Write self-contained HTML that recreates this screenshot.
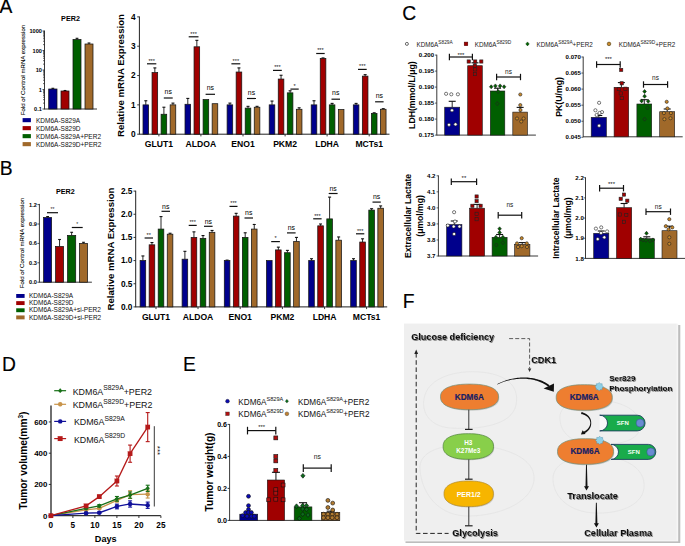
<!DOCTYPE html>
<html><head><meta charset="utf-8"><title>Figure</title>
<style>
html,body{margin:0;padding:0;background:#fff;}
body{width:685px;height:546px;overflow:hidden;}
svg{display:block;font-family:"Liberation Sans", sans-serif;}
</style></head><body>
<svg width="685" height="546" viewBox="0 0 685 546">
<defs><filter id="tsh" x="-10%" y="-30%" width="130%" height="180%"><feDropShadow dx="0.9" dy="0.9" stdDeviation="0.55" flood-color="#000" flood-opacity="0.5"/></filter></defs>
<rect width="685" height="546" fill="#fff"/>
<text x="-0.50" y="13.30" font-size="19.3" text-anchor="start" fill="#000" stroke="#000" stroke-width="0.15">A</text>
<text x="-0.20" y="175.00" font-size="19.3" text-anchor="start" fill="#000" stroke="#000" stroke-width="0.15">B</text>
<text x="402.30" y="20.20" font-size="19.3" text-anchor="start" fill="#000" stroke="#000" stroke-width="0.15">C</text>
<text x="2.00" y="371.20" font-size="19.3" text-anchor="start" fill="#000" stroke="#000" stroke-width="0.15">D</text>
<text x="183.00" y="370.80" font-size="19.3" text-anchor="start" fill="#000" stroke="#000" stroke-width="0.15">E</text>
<text x="402.70" y="307.70" font-size="19.3" text-anchor="start" fill="#000" stroke="#000" stroke-width="0.15">F</text>
<line x1="139.40" y1="16.48" x2="139.40" y2="134.60" stroke="#222" stroke-width="1.0"/>
<line x1="139.40" y1="134.20" x2="389.50" y2="134.20" stroke="#222" stroke-width="1.0"/>
<line x1="137.20" y1="134.20" x2="139.40" y2="134.20" stroke="#222" stroke-width="0.9"/>
<text x="135.60" y="137.10" font-size="8.3" font-weight="bold" text-anchor="end" fill="#000">0</text>
<line x1="137.20" y1="104.87" x2="139.40" y2="104.87" stroke="#222" stroke-width="0.9"/>
<text x="135.60" y="107.77" font-size="8.3" font-weight="bold" text-anchor="end" fill="#000">1</text>
<line x1="137.20" y1="75.54" x2="139.40" y2="75.54" stroke="#222" stroke-width="0.9"/>
<text x="135.60" y="78.44" font-size="8.3" font-weight="bold" text-anchor="end" fill="#000">2</text>
<line x1="137.20" y1="46.21" x2="139.40" y2="46.21" stroke="#222" stroke-width="0.9"/>
<text x="135.60" y="49.11" font-size="8.3" font-weight="bold" text-anchor="end" fill="#000">3</text>
<line x1="137.20" y1="16.88" x2="139.40" y2="16.88" stroke="#222" stroke-width="0.9"/>
<text x="135.60" y="19.78" font-size="8.3" font-weight="bold" text-anchor="end" fill="#000">4</text>
<line x1="158.90" y1="134.20" x2="158.90" y2="136.40" stroke="#222" stroke-width="0.9"/>
<text x="158.90" y="146.70" font-size="8.6" font-weight="bold" text-anchor="middle" fill="#000">GLUT1</text>
<line x1="145.80" y1="104.87" x2="145.80" y2="100.76" stroke="#111" stroke-width="0.9"/>
<line x1="144.30" y1="100.76" x2="147.30" y2="100.76" stroke="#111" stroke-width="1.1"/>
<rect x="143.00" y="104.87" width="5.60" height="29.33" fill="#00008c" stroke="#151515" stroke-width="0.75"/>
<line x1="154.85" y1="72.61" x2="154.85" y2="67.91" stroke="#111" stroke-width="0.9"/>
<line x1="153.35" y1="67.91" x2="156.35" y2="67.91" stroke="#111" stroke-width="1.1"/>
<rect x="152.05" y="72.61" width="5.60" height="61.59" fill="#a00000" stroke="#151515" stroke-width="0.75"/>
<line x1="163.90" y1="114.26" x2="163.90" y2="107.22" stroke="#111" stroke-width="0.9"/>
<line x1="162.40" y1="107.22" x2="165.40" y2="107.22" stroke="#111" stroke-width="1.1"/>
<rect x="161.10" y="114.26" width="5.60" height="19.94" fill="#005f00" stroke="#151515" stroke-width="0.75"/>
<line x1="172.95" y1="104.87" x2="172.95" y2="103.11" stroke="#111" stroke-width="0.9"/>
<line x1="171.45" y1="103.11" x2="174.45" y2="103.11" stroke="#111" stroke-width="1.1"/>
<rect x="170.15" y="104.87" width="5.60" height="29.33" fill="#a0692a" stroke="#151515" stroke-width="0.75"/>
<line x1="200.90" y1="134.20" x2="200.90" y2="136.40" stroke="#222" stroke-width="0.9"/>
<text x="200.90" y="146.70" font-size="8.6" font-weight="bold" text-anchor="middle" fill="#000">ALDOA</text>
<line x1="187.80" y1="104.28" x2="187.80" y2="98.42" stroke="#111" stroke-width="0.9"/>
<line x1="186.30" y1="98.42" x2="189.30" y2="98.42" stroke="#111" stroke-width="1.1"/>
<rect x="185.00" y="104.28" width="5.60" height="29.92" fill="#00008c" stroke="#151515" stroke-width="0.75"/>
<line x1="196.85" y1="46.80" x2="196.85" y2="40.34" stroke="#111" stroke-width="0.9"/>
<line x1="195.35" y1="40.34" x2="198.35" y2="40.34" stroke="#111" stroke-width="1.1"/>
<rect x="194.05" y="46.80" width="5.60" height="87.40" fill="#a00000" stroke="#151515" stroke-width="0.75"/>
<rect x="203.10" y="99.59" width="5.60" height="34.61" fill="#005f00" stroke="#151515" stroke-width="0.75"/>
<rect x="212.15" y="103.70" width="5.60" height="30.50" fill="#a0692a" stroke="#151515" stroke-width="0.75"/>
<line x1="243.00" y1="134.20" x2="243.00" y2="136.40" stroke="#222" stroke-width="0.9"/>
<text x="243.00" y="146.70" font-size="8.6" font-weight="bold" text-anchor="middle" fill="#000">ENO1</text>
<line x1="229.90" y1="104.87" x2="229.90" y2="103.11" stroke="#111" stroke-width="0.9"/>
<line x1="228.40" y1="103.11" x2="231.40" y2="103.11" stroke="#111" stroke-width="1.1"/>
<rect x="227.10" y="104.87" width="5.60" height="29.33" fill="#00008c" stroke="#151515" stroke-width="0.75"/>
<line x1="238.95" y1="72.02" x2="238.95" y2="67.91" stroke="#111" stroke-width="0.9"/>
<line x1="237.45" y1="67.91" x2="240.45" y2="67.91" stroke="#111" stroke-width="1.1"/>
<rect x="236.15" y="72.02" width="5.60" height="62.18" fill="#a00000" stroke="#151515" stroke-width="0.75"/>
<line x1="248.00" y1="108.10" x2="248.00" y2="106.34" stroke="#111" stroke-width="0.9"/>
<line x1="246.50" y1="106.34" x2="249.50" y2="106.34" stroke="#111" stroke-width="1.1"/>
<rect x="245.20" y="108.10" width="5.60" height="26.10" fill="#005f00" stroke="#151515" stroke-width="0.75"/>
<line x1="257.05" y1="107.22" x2="257.05" y2="106.34" stroke="#111" stroke-width="0.9"/>
<line x1="255.55" y1="106.34" x2="258.55" y2="106.34" stroke="#111" stroke-width="1.1"/>
<rect x="254.25" y="107.22" width="5.60" height="26.98" fill="#a0692a" stroke="#151515" stroke-width="0.75"/>
<line x1="285.10" y1="134.20" x2="285.10" y2="136.40" stroke="#222" stroke-width="0.9"/>
<text x="285.10" y="146.70" font-size="8.6" font-weight="bold" text-anchor="middle" fill="#000">PKM2</text>
<line x1="272.00" y1="104.87" x2="272.00" y2="101.06" stroke="#111" stroke-width="0.9"/>
<line x1="270.50" y1="101.06" x2="273.50" y2="101.06" stroke="#111" stroke-width="1.1"/>
<rect x="269.20" y="104.87" width="5.60" height="29.33" fill="#00008c" stroke="#151515" stroke-width="0.75"/>
<line x1="281.05" y1="79.06" x2="281.05" y2="75.25" stroke="#111" stroke-width="0.9"/>
<line x1="279.55" y1="75.25" x2="282.55" y2="75.25" stroke="#111" stroke-width="1.1"/>
<rect x="278.25" y="79.06" width="5.60" height="55.14" fill="#a00000" stroke="#151515" stroke-width="0.75"/>
<line x1="290.10" y1="92.84" x2="290.10" y2="90.79" stroke="#111" stroke-width="0.9"/>
<line x1="288.60" y1="90.79" x2="291.60" y2="90.79" stroke="#111" stroke-width="1.1"/>
<rect x="287.30" y="92.84" width="5.60" height="41.36" fill="#005f00" stroke="#151515" stroke-width="0.75"/>
<line x1="299.15" y1="109.27" x2="299.15" y2="107.80" stroke="#111" stroke-width="0.9"/>
<line x1="297.65" y1="107.80" x2="300.65" y2="107.80" stroke="#111" stroke-width="1.1"/>
<rect x="296.35" y="109.27" width="5.60" height="24.93" fill="#a0692a" stroke="#151515" stroke-width="0.75"/>
<line x1="327.10" y1="134.20" x2="327.10" y2="136.40" stroke="#222" stroke-width="0.9"/>
<text x="327.10" y="146.70" font-size="8.6" font-weight="bold" text-anchor="middle" fill="#000">LDHA</text>
<line x1="314.00" y1="104.87" x2="314.00" y2="100.76" stroke="#111" stroke-width="0.9"/>
<line x1="312.50" y1="100.76" x2="315.50" y2="100.76" stroke="#111" stroke-width="1.1"/>
<rect x="311.20" y="104.87" width="5.60" height="29.33" fill="#00008c" stroke="#151515" stroke-width="0.75"/>
<line x1="323.05" y1="58.53" x2="323.05" y2="57.94" stroke="#111" stroke-width="0.9"/>
<line x1="321.55" y1="57.94" x2="324.55" y2="57.94" stroke="#111" stroke-width="1.1"/>
<rect x="320.25" y="58.53" width="5.60" height="75.67" fill="#a00000" stroke="#151515" stroke-width="0.75"/>
<line x1="332.10" y1="104.87" x2="332.10" y2="103.40" stroke="#111" stroke-width="0.9"/>
<line x1="330.60" y1="103.40" x2="333.60" y2="103.40" stroke="#111" stroke-width="1.1"/>
<rect x="329.30" y="104.87" width="5.60" height="29.33" fill="#005f00" stroke="#151515" stroke-width="0.75"/>
<rect x="338.35" y="109.56" width="5.60" height="24.64" fill="#a0692a" stroke="#151515" stroke-width="0.75"/>
<line x1="369.20" y1="134.20" x2="369.20" y2="136.40" stroke="#222" stroke-width="0.9"/>
<text x="369.20" y="146.70" font-size="8.6" font-weight="bold" text-anchor="middle" fill="#000">MCTs1</text>
<line x1="356.10" y1="104.87" x2="356.10" y2="103.40" stroke="#111" stroke-width="0.9"/>
<line x1="354.60" y1="103.40" x2="357.60" y2="103.40" stroke="#111" stroke-width="1.1"/>
<rect x="353.30" y="104.87" width="5.60" height="29.33" fill="#00008c" stroke="#151515" stroke-width="0.75"/>
<line x1="365.15" y1="76.13" x2="365.15" y2="74.66" stroke="#111" stroke-width="0.9"/>
<line x1="363.65" y1="74.66" x2="366.65" y2="74.66" stroke="#111" stroke-width="1.1"/>
<rect x="362.35" y="76.13" width="5.60" height="58.07" fill="#a00000" stroke="#151515" stroke-width="0.75"/>
<line x1="374.20" y1="113.38" x2="374.20" y2="112.79" stroke="#111" stroke-width="0.9"/>
<line x1="372.70" y1="112.79" x2="375.70" y2="112.79" stroke="#111" stroke-width="1.1"/>
<rect x="371.40" y="113.38" width="5.60" height="20.82" fill="#005f00" stroke="#151515" stroke-width="0.75"/>
<line x1="383.25" y1="109.27" x2="383.25" y2="108.68" stroke="#111" stroke-width="0.9"/>
<line x1="381.75" y1="108.68" x2="384.75" y2="108.68" stroke="#111" stroke-width="1.1"/>
<rect x="380.45" y="109.27" width="5.60" height="24.93" fill="#a0692a" stroke="#151515" stroke-width="0.75"/>
<line x1="147.00" y1="63.80" x2="156.30" y2="63.80" stroke="#111" stroke-width="1.2"/>
<text x="151.65" y="62.60" font-size="5.6" text-anchor="middle" fill="#111">***</text>
<line x1="163.80" y1="98.00" x2="172.70" y2="98.00" stroke="#111" stroke-width="1.2"/>
<text x="168.25" y="94.00" font-size="6.9" text-anchor="middle" fill="#000">ns</text>
<line x1="188.70" y1="36.80" x2="198.50" y2="36.80" stroke="#111" stroke-width="1.2"/>
<text x="193.60" y="35.60" font-size="5.6" text-anchor="middle" fill="#111">***</text>
<line x1="205.60" y1="94.30" x2="215.00" y2="94.30" stroke="#111" stroke-width="1.2"/>
<text x="210.30" y="90.30" font-size="6.9" text-anchor="middle" fill="#000">ns</text>
<line x1="231.40" y1="63.80" x2="240.30" y2="63.80" stroke="#111" stroke-width="1.2"/>
<text x="235.85" y="62.60" font-size="5.6" text-anchor="middle" fill="#111">***</text>
<line x1="247.00" y1="98.50" x2="256.00" y2="98.50" stroke="#111" stroke-width="1.2"/>
<text x="251.50" y="94.50" font-size="6.9" text-anchor="middle" fill="#000">ns</text>
<line x1="273.00" y1="70.40" x2="281.80" y2="70.40" stroke="#111" stroke-width="1.2"/>
<text x="277.40" y="69.20" font-size="5.6" text-anchor="middle" fill="#111">***</text>
<line x1="290.40" y1="89.10" x2="298.70" y2="89.10" stroke="#111" stroke-width="1.2"/>
<text x="294.55" y="87.90" font-size="5.6" text-anchor="middle" fill="#111">*</text>
<line x1="316.20" y1="53.50" x2="324.70" y2="53.50" stroke="#111" stroke-width="1.2"/>
<text x="320.45" y="52.30" font-size="5.6" text-anchor="middle" fill="#111">***</text>
<line x1="331.50" y1="99.20" x2="340.00" y2="99.20" stroke="#111" stroke-width="1.2"/>
<text x="335.75" y="95.20" font-size="6.9" text-anchor="middle" fill="#000">ns</text>
<line x1="358.00" y1="69.40" x2="366.70" y2="69.40" stroke="#111" stroke-width="1.2"/>
<text x="362.35" y="68.20" font-size="5.6" text-anchor="middle" fill="#111">***</text>
<line x1="375.10" y1="101.80" x2="383.60" y2="101.80" stroke="#111" stroke-width="1.2"/>
<text x="379.35" y="97.80" font-size="6.9" text-anchor="middle" fill="#000">ns</text>
<text x="124.30" y="75.54" font-size="9.6" font-weight="bold" text-anchor="middle" fill="#000" transform="rotate(-90 124.3 75.53999999999999)">Relative mRNA Expression</text>
<line x1="135.70" y1="190.70" x2="135.70" y2="307.30" stroke="#222" stroke-width="1.0"/>
<line x1="135.70" y1="306.90" x2="387.20" y2="306.90" stroke="#222" stroke-width="1.0"/>
<line x1="133.50" y1="306.90" x2="135.70" y2="306.90" stroke="#222" stroke-width="0.9"/>
<text x="132.50" y="309.80" font-size="8.3" font-weight="bold" text-anchor="end" fill="#000">0.0</text>
<line x1="133.50" y1="283.74" x2="135.70" y2="283.74" stroke="#222" stroke-width="0.9"/>
<text x="132.50" y="286.64" font-size="8.3" font-weight="bold" text-anchor="end" fill="#000">0.5</text>
<line x1="133.50" y1="260.58" x2="135.70" y2="260.58" stroke="#222" stroke-width="0.9"/>
<text x="132.50" y="263.48" font-size="8.3" font-weight="bold" text-anchor="end" fill="#000">1.0</text>
<line x1="133.50" y1="237.42" x2="135.70" y2="237.42" stroke="#222" stroke-width="0.9"/>
<text x="132.50" y="240.32" font-size="8.3" font-weight="bold" text-anchor="end" fill="#000">1.5</text>
<line x1="133.50" y1="214.26" x2="135.70" y2="214.26" stroke="#222" stroke-width="0.9"/>
<text x="132.50" y="217.16" font-size="8.3" font-weight="bold" text-anchor="end" fill="#000">2.0</text>
<line x1="133.50" y1="191.10" x2="135.70" y2="191.10" stroke="#222" stroke-width="0.9"/>
<text x="132.50" y="194.00" font-size="8.3" font-weight="bold" text-anchor="end" fill="#000">2.5</text>
<line x1="156.00" y1="306.90" x2="156.00" y2="309.10" stroke="#222" stroke-width="0.9"/>
<text x="156.00" y="320.20" font-size="8.6" font-weight="bold" text-anchor="middle" fill="#000">GLUT1</text>
<line x1="142.90" y1="260.58" x2="142.90" y2="255.95" stroke="#111" stroke-width="0.9"/>
<line x1="141.40" y1="255.95" x2="144.40" y2="255.95" stroke="#111" stroke-width="1.1"/>
<rect x="140.10" y="260.58" width="5.60" height="46.32" fill="#00008c" stroke="#151515" stroke-width="0.75"/>
<line x1="151.95" y1="244.83" x2="151.95" y2="242.52" stroke="#111" stroke-width="0.9"/>
<line x1="150.45" y1="242.52" x2="153.45" y2="242.52" stroke="#111" stroke-width="1.1"/>
<rect x="149.15" y="244.83" width="5.60" height="62.07" fill="#a00000" stroke="#151515" stroke-width="0.75"/>
<line x1="161.00" y1="229.08" x2="161.00" y2="216.58" stroke="#111" stroke-width="0.9"/>
<line x1="159.50" y1="216.58" x2="162.50" y2="216.58" stroke="#111" stroke-width="1.1"/>
<rect x="158.20" y="229.08" width="5.60" height="77.82" fill="#005f00" stroke="#151515" stroke-width="0.75"/>
<line x1="170.05" y1="234.18" x2="170.05" y2="233.25" stroke="#111" stroke-width="0.9"/>
<line x1="168.55" y1="233.25" x2="171.55" y2="233.25" stroke="#111" stroke-width="1.1"/>
<rect x="167.25" y="234.18" width="5.60" height="72.72" fill="#a0692a" stroke="#151515" stroke-width="0.75"/>
<line x1="198.00" y1="306.90" x2="198.00" y2="309.10" stroke="#222" stroke-width="0.9"/>
<text x="198.00" y="320.20" font-size="8.6" font-weight="bold" text-anchor="middle" fill="#000">ALDOA</text>
<line x1="184.90" y1="259.19" x2="184.90" y2="251.32" stroke="#111" stroke-width="0.9"/>
<line x1="183.40" y1="251.32" x2="186.40" y2="251.32" stroke="#111" stroke-width="1.1"/>
<rect x="182.10" y="259.19" width="5.60" height="47.71" fill="#00008c" stroke="#151515" stroke-width="0.75"/>
<line x1="193.95" y1="237.42" x2="193.95" y2="231.86" stroke="#111" stroke-width="0.9"/>
<line x1="192.45" y1="231.86" x2="195.45" y2="231.86" stroke="#111" stroke-width="1.1"/>
<rect x="191.15" y="237.42" width="5.60" height="69.48" fill="#a00000" stroke="#151515" stroke-width="0.75"/>
<line x1="203.00" y1="238.35" x2="203.00" y2="235.57" stroke="#111" stroke-width="0.9"/>
<line x1="201.50" y1="235.57" x2="204.50" y2="235.57" stroke="#111" stroke-width="1.1"/>
<rect x="200.20" y="238.35" width="5.60" height="68.55" fill="#005f00" stroke="#151515" stroke-width="0.75"/>
<line x1="212.05" y1="232.32" x2="212.05" y2="230.47" stroke="#111" stroke-width="0.9"/>
<line x1="210.55" y1="230.47" x2="213.55" y2="230.47" stroke="#111" stroke-width="1.1"/>
<rect x="209.25" y="232.32" width="5.60" height="74.58" fill="#a0692a" stroke="#151515" stroke-width="0.75"/>
<line x1="240.20" y1="306.90" x2="240.20" y2="309.10" stroke="#222" stroke-width="0.9"/>
<text x="240.20" y="320.20" font-size="8.6" font-weight="bold" text-anchor="middle" fill="#000">ENO1</text>
<line x1="227.10" y1="260.58" x2="227.10" y2="260.12" stroke="#111" stroke-width="0.9"/>
<line x1="225.60" y1="260.12" x2="228.60" y2="260.12" stroke="#111" stroke-width="1.1"/>
<rect x="224.30" y="260.58" width="5.60" height="46.32" fill="#00008c" stroke="#151515" stroke-width="0.75"/>
<line x1="236.15" y1="216.11" x2="236.15" y2="213.33" stroke="#111" stroke-width="0.9"/>
<line x1="234.65" y1="213.33" x2="237.65" y2="213.33" stroke="#111" stroke-width="1.1"/>
<rect x="233.35" y="216.11" width="5.60" height="90.79" fill="#a00000" stroke="#151515" stroke-width="0.75"/>
<line x1="245.20" y1="237.42" x2="245.20" y2="232.79" stroke="#111" stroke-width="0.9"/>
<line x1="243.70" y1="232.79" x2="246.70" y2="232.79" stroke="#111" stroke-width="1.1"/>
<rect x="242.40" y="237.42" width="5.60" height="69.48" fill="#005f00" stroke="#151515" stroke-width="0.75"/>
<line x1="254.25" y1="229.08" x2="254.25" y2="224.45" stroke="#111" stroke-width="0.9"/>
<line x1="252.75" y1="224.45" x2="255.75" y2="224.45" stroke="#111" stroke-width="1.1"/>
<rect x="251.45" y="229.08" width="5.60" height="77.82" fill="#a0692a" stroke="#151515" stroke-width="0.75"/>
<line x1="282.40" y1="306.90" x2="282.40" y2="309.10" stroke="#222" stroke-width="0.9"/>
<text x="282.40" y="320.20" font-size="8.6" font-weight="bold" text-anchor="middle" fill="#000">PKM2</text>
<rect x="266.50" y="260.58" width="5.60" height="46.32" fill="#00008c" stroke="#151515" stroke-width="0.75"/>
<line x1="278.35" y1="249.93" x2="278.35" y2="247.15" stroke="#111" stroke-width="0.9"/>
<line x1="276.85" y1="247.15" x2="279.85" y2="247.15" stroke="#111" stroke-width="1.1"/>
<rect x="275.55" y="249.93" width="5.60" height="56.97" fill="#a00000" stroke="#151515" stroke-width="0.75"/>
<line x1="287.40" y1="252.71" x2="287.40" y2="250.39" stroke="#111" stroke-width="0.9"/>
<line x1="285.90" y1="250.39" x2="288.90" y2="250.39" stroke="#111" stroke-width="1.1"/>
<rect x="284.60" y="252.71" width="5.60" height="54.19" fill="#005f00" stroke="#151515" stroke-width="0.75"/>
<line x1="296.45" y1="241.59" x2="296.45" y2="237.42" stroke="#111" stroke-width="0.9"/>
<line x1="294.95" y1="237.42" x2="297.95" y2="237.42" stroke="#111" stroke-width="1.1"/>
<rect x="293.65" y="241.59" width="5.60" height="65.31" fill="#a0692a" stroke="#151515" stroke-width="0.75"/>
<line x1="324.60" y1="306.90" x2="324.60" y2="309.10" stroke="#222" stroke-width="0.9"/>
<text x="324.60" y="320.20" font-size="8.6" font-weight="bold" text-anchor="middle" fill="#000">LDHA</text>
<line x1="311.50" y1="260.58" x2="311.50" y2="258.73" stroke="#111" stroke-width="0.9"/>
<line x1="310.00" y1="258.73" x2="313.00" y2="258.73" stroke="#111" stroke-width="1.1"/>
<rect x="308.70" y="260.58" width="5.60" height="46.32" fill="#00008c" stroke="#151515" stroke-width="0.75"/>
<line x1="320.55" y1="225.84" x2="320.55" y2="223.99" stroke="#111" stroke-width="0.9"/>
<line x1="319.05" y1="223.99" x2="322.05" y2="223.99" stroke="#111" stroke-width="1.1"/>
<rect x="317.75" y="225.84" width="5.60" height="81.06" fill="#a00000" stroke="#151515" stroke-width="0.75"/>
<line x1="329.60" y1="218.89" x2="329.60" y2="197.12" stroke="#111" stroke-width="0.9"/>
<line x1="328.10" y1="197.12" x2="331.10" y2="197.12" stroke="#111" stroke-width="1.1"/>
<rect x="326.80" y="218.89" width="5.60" height="88.01" fill="#005f00" stroke="#151515" stroke-width="0.75"/>
<line x1="338.65" y1="240.20" x2="338.65" y2="236.96" stroke="#111" stroke-width="0.9"/>
<line x1="337.15" y1="236.96" x2="340.15" y2="236.96" stroke="#111" stroke-width="1.1"/>
<rect x="335.85" y="240.20" width="5.60" height="66.70" fill="#a0692a" stroke="#151515" stroke-width="0.75"/>
<line x1="366.60" y1="306.90" x2="366.60" y2="309.10" stroke="#222" stroke-width="0.9"/>
<text x="366.60" y="320.20" font-size="8.6" font-weight="bold" text-anchor="middle" fill="#000">MCTs1</text>
<line x1="353.50" y1="260.58" x2="353.50" y2="258.73" stroke="#111" stroke-width="0.9"/>
<line x1="352.00" y1="258.73" x2="355.00" y2="258.73" stroke="#111" stroke-width="1.1"/>
<rect x="350.70" y="260.58" width="5.60" height="46.32" fill="#00008c" stroke="#151515" stroke-width="0.75"/>
<line x1="362.55" y1="242.05" x2="362.55" y2="238.81" stroke="#111" stroke-width="0.9"/>
<line x1="361.05" y1="238.81" x2="364.05" y2="238.81" stroke="#111" stroke-width="1.1"/>
<rect x="359.75" y="242.05" width="5.60" height="64.85" fill="#a00000" stroke="#151515" stroke-width="0.75"/>
<line x1="371.60" y1="210.09" x2="371.60" y2="208.70" stroke="#111" stroke-width="0.9"/>
<line x1="370.10" y1="208.70" x2="373.10" y2="208.70" stroke="#111" stroke-width="1.1"/>
<rect x="368.80" y="210.09" width="5.60" height="96.81" fill="#005f00" stroke="#151515" stroke-width="0.75"/>
<line x1="380.65" y1="208.24" x2="380.65" y2="205.92" stroke="#111" stroke-width="0.9"/>
<line x1="379.15" y1="205.92" x2="382.15" y2="205.92" stroke="#111" stroke-width="1.1"/>
<rect x="377.85" y="208.24" width="5.60" height="98.66" fill="#a0692a" stroke="#151515" stroke-width="0.75"/>
<line x1="144.60" y1="238.00" x2="153.00" y2="238.00" stroke="#111" stroke-width="1.2"/>
<text x="148.80" y="236.80" font-size="5.6" text-anchor="middle" fill="#111">**</text>
<line x1="161.50" y1="211.30" x2="170.00" y2="211.30" stroke="#111" stroke-width="1.2"/>
<text x="165.75" y="208.60" font-size="6.9" text-anchor="middle" fill="#000">ns</text>
<line x1="188.70" y1="225.40" x2="196.70" y2="225.40" stroke="#111" stroke-width="1.2"/>
<text x="192.70" y="224.20" font-size="5.6" text-anchor="middle" fill="#111">***</text>
<line x1="204.00" y1="226.30" x2="212.60" y2="226.30" stroke="#111" stroke-width="1.2"/>
<text x="208.30" y="223.60" font-size="6.9" text-anchor="middle" fill="#000">ns</text>
<line x1="229.50" y1="206.40" x2="237.50" y2="206.40" stroke="#111" stroke-width="1.2"/>
<text x="233.50" y="205.20" font-size="5.6" text-anchor="middle" fill="#111">***</text>
<line x1="244.50" y1="218.00" x2="253.00" y2="218.00" stroke="#111" stroke-width="1.2"/>
<text x="248.75" y="215.30" font-size="6.9" text-anchor="middle" fill="#000">ns</text>
<line x1="271.20" y1="241.60" x2="279.90" y2="241.60" stroke="#111" stroke-width="1.2"/>
<text x="275.55" y="240.40" font-size="5.6" text-anchor="middle" fill="#111">*</text>
<line x1="287.00" y1="232.90" x2="295.60" y2="232.90" stroke="#111" stroke-width="1.2"/>
<text x="291.30" y="230.20" font-size="6.9" text-anchor="middle" fill="#000">ns</text>
<line x1="313.20" y1="218.80" x2="321.60" y2="218.80" stroke="#111" stroke-width="1.2"/>
<text x="317.40" y="217.60" font-size="5.6" text-anchor="middle" fill="#111">***</text>
<line x1="328.70" y1="193.50" x2="337.60" y2="193.50" stroke="#111" stroke-width="1.2"/>
<text x="333.15" y="190.80" font-size="6.9" text-anchor="middle" fill="#000">ns</text>
<line x1="356.00" y1="233.80" x2="364.30" y2="233.80" stroke="#111" stroke-width="1.2"/>
<text x="360.15" y="232.60" font-size="5.6" text-anchor="middle" fill="#111">***</text>
<line x1="372.50" y1="202.10" x2="380.80" y2="202.10" stroke="#111" stroke-width="1.2"/>
<text x="376.65" y="199.40" font-size="6.9" text-anchor="middle" fill="#000">ns</text>
<text x="113.80" y="249.00" font-size="9.6" font-weight="bold" text-anchor="middle" fill="#000" transform="rotate(-90 113.8 248.99999999999997)">Relative mRNA Expression</text>
<text x="70.50" y="21.30" font-size="7.2" font-weight="bold" text-anchor="middle" fill="#000">PER2</text>
<line x1="44.50" y1="30.60" x2="44.50" y2="109.40" stroke="#222" stroke-width="0.9"/>
<line x1="44.50" y1="109.00" x2="97.00" y2="109.00" stroke="#222" stroke-width="0.9"/>
<line x1="42.50" y1="109.00" x2="44.50" y2="109.00" stroke="#222" stroke-width="0.8"/>
<text x="41.90" y="111.00" font-size="5.6" font-weight="bold" text-anchor="end" fill="#000">0.1</text>
<line x1="43.00" y1="103.13" x2="44.50" y2="103.13" stroke="#222" stroke-width="0.7"/>
<line x1="43.00" y1="99.70" x2="44.50" y2="99.70" stroke="#222" stroke-width="0.7"/>
<line x1="43.00" y1="97.26" x2="44.50" y2="97.26" stroke="#222" stroke-width="0.7"/>
<line x1="43.00" y1="95.37" x2="44.50" y2="95.37" stroke="#222" stroke-width="0.7"/>
<line x1="43.00" y1="93.83" x2="44.50" y2="93.83" stroke="#222" stroke-width="0.7"/>
<line x1="43.00" y1="92.52" x2="44.50" y2="92.52" stroke="#222" stroke-width="0.7"/>
<line x1="43.00" y1="91.39" x2="44.50" y2="91.39" stroke="#222" stroke-width="0.7"/>
<line x1="43.00" y1="90.39" x2="44.50" y2="90.39" stroke="#222" stroke-width="0.7"/>
<line x1="42.50" y1="89.50" x2="44.50" y2="89.50" stroke="#222" stroke-width="0.8"/>
<text x="41.90" y="91.50" font-size="5.6" font-weight="bold" text-anchor="end" fill="#000">1</text>
<line x1="43.00" y1="83.63" x2="44.50" y2="83.63" stroke="#222" stroke-width="0.7"/>
<line x1="43.00" y1="80.20" x2="44.50" y2="80.20" stroke="#222" stroke-width="0.7"/>
<line x1="43.00" y1="77.76" x2="44.50" y2="77.76" stroke="#222" stroke-width="0.7"/>
<line x1="43.00" y1="75.87" x2="44.50" y2="75.87" stroke="#222" stroke-width="0.7"/>
<line x1="43.00" y1="74.33" x2="44.50" y2="74.33" stroke="#222" stroke-width="0.7"/>
<line x1="43.00" y1="73.02" x2="44.50" y2="73.02" stroke="#222" stroke-width="0.7"/>
<line x1="43.00" y1="71.89" x2="44.50" y2="71.89" stroke="#222" stroke-width="0.7"/>
<line x1="43.00" y1="70.89" x2="44.50" y2="70.89" stroke="#222" stroke-width="0.7"/>
<line x1="42.50" y1="70.00" x2="44.50" y2="70.00" stroke="#222" stroke-width="0.8"/>
<text x="41.90" y="72.00" font-size="5.6" font-weight="bold" text-anchor="end" fill="#000">10</text>
<line x1="43.00" y1="64.13" x2="44.50" y2="64.13" stroke="#222" stroke-width="0.7"/>
<line x1="43.00" y1="60.70" x2="44.50" y2="60.70" stroke="#222" stroke-width="0.7"/>
<line x1="43.00" y1="58.26" x2="44.50" y2="58.26" stroke="#222" stroke-width="0.7"/>
<line x1="43.00" y1="56.37" x2="44.50" y2="56.37" stroke="#222" stroke-width="0.7"/>
<line x1="43.00" y1="54.83" x2="44.50" y2="54.83" stroke="#222" stroke-width="0.7"/>
<line x1="43.00" y1="53.52" x2="44.50" y2="53.52" stroke="#222" stroke-width="0.7"/>
<line x1="43.00" y1="52.39" x2="44.50" y2="52.39" stroke="#222" stroke-width="0.7"/>
<line x1="43.00" y1="51.39" x2="44.50" y2="51.39" stroke="#222" stroke-width="0.7"/>
<line x1="42.50" y1="50.50" x2="44.50" y2="50.50" stroke="#222" stroke-width="0.8"/>
<text x="41.90" y="52.50" font-size="5.6" font-weight="bold" text-anchor="end" fill="#000">100</text>
<line x1="43.00" y1="44.63" x2="44.50" y2="44.63" stroke="#222" stroke-width="0.7"/>
<line x1="43.00" y1="41.20" x2="44.50" y2="41.20" stroke="#222" stroke-width="0.7"/>
<line x1="43.00" y1="38.76" x2="44.50" y2="38.76" stroke="#222" stroke-width="0.7"/>
<line x1="43.00" y1="36.87" x2="44.50" y2="36.87" stroke="#222" stroke-width="0.7"/>
<line x1="43.00" y1="35.33" x2="44.50" y2="35.33" stroke="#222" stroke-width="0.7"/>
<line x1="43.00" y1="34.02" x2="44.50" y2="34.02" stroke="#222" stroke-width="0.7"/>
<line x1="43.00" y1="32.89" x2="44.50" y2="32.89" stroke="#222" stroke-width="0.7"/>
<line x1="43.00" y1="31.89" x2="44.50" y2="31.89" stroke="#222" stroke-width="0.7"/>
<line x1="42.50" y1="31.00" x2="44.50" y2="31.00" stroke="#222" stroke-width="0.8"/>
<text x="41.90" y="33.00" font-size="5.6" font-weight="bold" text-anchor="end" fill="#000">1000</text>
<line x1="52.85" y1="89.00" x2="52.85" y2="88.30" stroke="#111" stroke-width="0.9"/>
<line x1="51.45" y1="88.30" x2="54.25" y2="88.30" stroke="#111" stroke-width="1.1"/>
<rect x="48.70" y="89.00" width="8.30" height="20.00" fill="#00008c" stroke="#151515" stroke-width="0.75"/>
<line x1="65.00" y1="91.00" x2="65.00" y2="90.50" stroke="#111" stroke-width="0.9"/>
<line x1="63.60" y1="90.50" x2="66.40" y2="90.50" stroke="#111" stroke-width="1.1"/>
<rect x="61.00" y="91.00" width="8.00" height="18.00" fill="#a00000" stroke="#151515" stroke-width="0.75"/>
<line x1="77.00" y1="39.50" x2="77.00" y2="38.30" stroke="#111" stroke-width="0.9"/>
<line x1="75.60" y1="38.30" x2="78.40" y2="38.30" stroke="#111" stroke-width="1.1"/>
<rect x="73.00" y="39.50" width="8.00" height="69.50" fill="#005f00" stroke="#151515" stroke-width="0.75"/>
<line x1="89.00" y1="44.00" x2="89.00" y2="43.00" stroke="#111" stroke-width="0.9"/>
<line x1="87.60" y1="43.00" x2="90.40" y2="43.00" stroke="#111" stroke-width="1.1"/>
<rect x="85.00" y="44.00" width="8.00" height="65.00" fill="#a0692a" stroke="#151515" stroke-width="0.75"/>
<text x="24.50" y="70.00" font-size="6.1" text-anchor="middle" fill="#000" transform="rotate(-90 24.5 70)" stroke="#000" stroke-width="0.08">Fold of Control mRNA expression</text>
<rect x="22.6" y="118.10" width="8.3" height="4.1" fill="#00008c"/>
<text x="36.00" y="122.50" font-size="6.52" text-anchor="start" fill="#111">KDM6A-S829A</text>
<rect x="22.6" y="126.10" width="8.3" height="4.1" fill="#a00000"/>
<text x="36.00" y="130.50" font-size="6.52" text-anchor="start" fill="#111">KDM6A-S829D</text>
<rect x="22.6" y="134.10" width="8.3" height="4.1" fill="#005f00"/>
<text x="36.00" y="138.50" font-size="6.52" text-anchor="start" fill="#111">KDM6A-S829A+PER2</text>
<rect x="22.6" y="142.10" width="8.3" height="4.1" fill="#a0692a"/>
<text x="36.00" y="146.50" font-size="6.52" text-anchor="start" fill="#111">KDM6A-S829D+PER2</text>
<text x="65.30" y="193.80" font-size="7.2" font-weight="bold" text-anchor="middle" fill="#000">PER2</text>
<line x1="39.40" y1="203.90" x2="39.40" y2="282.60" stroke="#222" stroke-width="0.9"/>
<line x1="39.40" y1="282.20" x2="91.90" y2="282.20" stroke="#222" stroke-width="0.9"/>
<line x1="37.40" y1="282.20" x2="39.40" y2="282.20" stroke="#222" stroke-width="0.8"/>
<text x="36.80" y="284.20" font-size="5.6" font-weight="bold" text-anchor="end" fill="#000">0.0</text>
<line x1="37.40" y1="262.80" x2="39.40" y2="262.80" stroke="#222" stroke-width="0.8"/>
<text x="36.80" y="264.80" font-size="5.6" font-weight="bold" text-anchor="end" fill="#000">0.3</text>
<line x1="37.40" y1="243.40" x2="39.40" y2="243.40" stroke="#222" stroke-width="0.8"/>
<text x="36.80" y="245.40" font-size="5.6" font-weight="bold" text-anchor="end" fill="#000">0.6</text>
<line x1="37.40" y1="224.00" x2="39.40" y2="224.00" stroke="#222" stroke-width="0.8"/>
<text x="36.80" y="226.00" font-size="5.6" font-weight="bold" text-anchor="end" fill="#000">0.9</text>
<line x1="37.40" y1="204.60" x2="39.40" y2="204.60" stroke="#222" stroke-width="0.8"/>
<text x="36.80" y="206.60" font-size="5.6" font-weight="bold" text-anchor="end" fill="#000">1.2</text>
<line x1="47.60" y1="217.53" x2="47.60" y2="216.56" stroke="#111" stroke-width="0.9"/>
<line x1="46.20" y1="216.56" x2="49.00" y2="216.56" stroke="#111" stroke-width="1.1"/>
<rect x="43.60" y="217.53" width="8.00" height="64.67" fill="#00008c" stroke="#151515" stroke-width="0.75"/>
<line x1="59.55" y1="246.50" x2="59.55" y2="239.50" stroke="#111" stroke-width="0.9"/>
<line x1="58.15" y1="239.50" x2="60.95" y2="239.50" stroke="#111" stroke-width="1.1"/>
<rect x="55.60" y="246.50" width="7.90" height="35.70" fill="#a00000" stroke="#151515" stroke-width="0.75"/>
<line x1="71.65" y1="235.40" x2="71.65" y2="232.30" stroke="#111" stroke-width="0.9"/>
<line x1="70.25" y1="232.30" x2="73.05" y2="232.30" stroke="#111" stroke-width="1.1"/>
<rect x="67.60" y="235.40" width="8.10" height="46.80" fill="#005f00" stroke="#151515" stroke-width="0.75"/>
<line x1="83.50" y1="243.50" x2="83.50" y2="242.30" stroke="#111" stroke-width="0.9"/>
<line x1="82.10" y1="242.30" x2="84.90" y2="242.30" stroke="#111" stroke-width="1.1"/>
<rect x="79.50" y="243.50" width="8.00" height="38.70" fill="#a0692a" stroke="#151515" stroke-width="0.75"/>
<line x1="47.00" y1="212.70" x2="58.00" y2="212.70" stroke="#111" stroke-width="1.2"/>
<text x="52.50" y="211.20" font-size="5" text-anchor="middle" fill="#222">**</text>
<line x1="71.80" y1="227.50" x2="82.70" y2="227.50" stroke="#111" stroke-width="1.2"/>
<text x="77.20" y="226.00" font-size="5" text-anchor="middle" fill="#222">*</text>
<text x="24.10" y="243.00" font-size="6.1" text-anchor="middle" fill="#000" transform="rotate(-90 24.1 243)" stroke="#000" stroke-width="0.08">Fold of Control mRNA expression</text>
<rect x="16.2" y="294.00" width="8.4" height="3.9" fill="#00008c"/>
<text x="29.00" y="298.10" font-size="6.52" text-anchor="start" fill="#111">KDM6A-S829A</text>
<rect x="16.2" y="301.15" width="8.4" height="3.9" fill="#a00000"/>
<text x="29.00" y="305.25" font-size="6.52" text-anchor="start" fill="#111">KDM6A-S829D</text>
<rect x="16.2" y="308.30" width="8.4" height="3.9" fill="#005f00"/>
<text x="29.00" y="312.40" font-size="6.52" text-anchor="start" fill="#111">KDM6A-S829A+si-PER2</text>
<rect x="16.2" y="315.45" width="8.4" height="3.9" fill="#a0692a"/>
<text x="29.00" y="319.55" font-size="6.52" text-anchor="start" fill="#111">KDM6A-S829D+si-PER2</text>
<circle cx="406.90" cy="43.90" r="1.50" fill="#fff" stroke="#444" stroke-width="0.8"/>
<text x="416.60" y="47.00" font-size="6.3" fill="#222">KDM6A<tspan font-size="4.8" dy="-3.28">S829A</tspan></text>
<rect x="464.20" y="42.10" width="3.60" height="3.60" fill="#a00000" stroke="#400" stroke-width="0.5"/>
<text x="474.80" y="47.00" font-size="6.3" fill="#222">KDM6A<tspan font-size="4.8" dy="-3.28">S829D</tspan></text>
<path d="M527.50 41.90L529.26 43.90L527.50 45.90L525.74 43.90Z" fill="#005f00" stroke="#030" stroke-width="0.4"/>
<text x="536.50" y="47.00" font-size="6.3" fill="#222">KDM6A<tspan font-size="4.8" dy="-3.28">S829A</tspan><tspan dy="3.28">+PER2</tspan></text>
<circle cx="609.00" cy="43.90" r="1.80" fill="#c8882a" stroke="#4a3a10" stroke-width="0.6"/>
<text x="618.80" y="47.00" font-size="6.3" fill="#222">KDM6A<tspan font-size="4.8" dy="-3.28">S829D</tspan><tspan dy="3.28">+PER2</tspan></text>
<line x1="436.80" y1="54.70" x2="436.80" y2="135.50" stroke="#222" stroke-width="0.9"/>
<line x1="436.80" y1="135.10" x2="535.90" y2="135.10" stroke="#222" stroke-width="0.9"/>
<line x1="435.00" y1="135.10" x2="436.80" y2="135.10" stroke="#222" stroke-width="0.7"/>
<text x="434.10" y="137.20" font-size="6.1" font-weight="bold" text-anchor="end" fill="#000">0.175</text>
<line x1="435.00" y1="119.10" x2="436.80" y2="119.10" stroke="#222" stroke-width="0.7"/>
<text x="434.10" y="121.20" font-size="6.1" font-weight="bold" text-anchor="end" fill="#000">0.180</text>
<line x1="435.00" y1="103.10" x2="436.80" y2="103.10" stroke="#222" stroke-width="0.7"/>
<text x="434.10" y="105.20" font-size="6.1" font-weight="bold" text-anchor="end" fill="#000">0.185</text>
<line x1="435.00" y1="87.10" x2="436.80" y2="87.10" stroke="#222" stroke-width="0.7"/>
<text x="434.10" y="89.20" font-size="6.1" font-weight="bold" text-anchor="end" fill="#000">0.190</text>
<line x1="435.00" y1="71.10" x2="436.80" y2="71.10" stroke="#222" stroke-width="0.7"/>
<text x="434.10" y="73.20" font-size="6.1" font-weight="bold" text-anchor="end" fill="#000">0.195</text>
<line x1="435.00" y1="55.10" x2="436.80" y2="55.10" stroke="#222" stroke-width="0.7"/>
<text x="434.10" y="57.20" font-size="6.1" font-weight="bold" text-anchor="end" fill="#000">0.200</text>
<line x1="452.20" y1="107.20" x2="452.20" y2="101.30" stroke="#111" stroke-width="0.9"/>
<line x1="448.70" y1="101.30" x2="455.70" y2="101.30" stroke="#111" stroke-width="1.1"/>
<rect x="444.70" y="107.20" width="15.00" height="27.90" fill="#00008c" stroke="#1a1a1a" stroke-width="0.6"/>
<circle cx="446.10" cy="93.80" r="1.60" fill="#ffffff" stroke="#222" stroke-width="0.6"/>
<circle cx="451.30" cy="94.30" r="1.60" fill="#ffffff" stroke="#222" stroke-width="0.6"/>
<circle cx="457.90" cy="94.30" r="1.60" fill="#ffffff" stroke="#222" stroke-width="0.6"/>
<circle cx="452.00" cy="110.30" r="1.60" fill="#ffffff" stroke="#222" stroke-width="0.6"/>
<circle cx="449.00" cy="124.80" r="1.60" fill="#ffffff" stroke="#222" stroke-width="0.6"/>
<circle cx="455.50" cy="124.30" r="1.60" fill="#ffffff" stroke="#222" stroke-width="0.6"/>
<line x1="475.00" y1="65.70" x2="475.00" y2="62.80" stroke="#111" stroke-width="0.9"/>
<line x1="471.50" y1="62.80" x2="478.50" y2="62.80" stroke="#111" stroke-width="1.1"/>
<rect x="467.70" y="65.70" width="14.60" height="69.40" fill="#a00000" stroke="#1a1a1a" stroke-width="0.6"/>
<rect x="467.10" y="59.90" width="3.20" height="3.20" fill="#a00000" stroke="#222" stroke-width="0.6"/>
<rect x="473.60" y="59.90" width="3.20" height="3.20" fill="#a00000" stroke="#222" stroke-width="0.6"/>
<rect x="479.70" y="59.90" width="3.20" height="3.20" fill="#a00000" stroke="#222" stroke-width="0.6"/>
<rect x="473.20" y="64.10" width="3.20" height="3.20" fill="#a00000" stroke="#222" stroke-width="0.6"/>
<rect x="473.60" y="67.80" width="3.20" height="3.20" fill="#a00000" stroke="#222" stroke-width="0.6"/>
<rect x="473.40" y="72.50" width="3.20" height="3.20" fill="#a00000" stroke="#222" stroke-width="0.6"/>
<line x1="497.55" y1="91.00" x2="497.55" y2="88.20" stroke="#111" stroke-width="0.9"/>
<line x1="494.05" y1="88.20" x2="501.05" y2="88.20" stroke="#111" stroke-width="1.1"/>
<rect x="490.30" y="91.00" width="14.50" height="44.10" fill="#005f00" stroke="#1a1a1a" stroke-width="0.6"/>
<path d="M491.20 84.80L492.96 86.80L491.20 88.80L489.44 86.80Z" fill="#005f00" stroke="#222" stroke-width="0.6"/>
<path d="M495.40 83.90L497.16 85.90L495.40 87.90L493.64 85.90Z" fill="#005f00" stroke="#222" stroke-width="0.6"/>
<path d="M500.10 83.90L501.86 85.90L500.10 87.90L498.34 85.90Z" fill="#005f00" stroke="#222" stroke-width="0.6"/>
<path d="M504.10 84.80L505.86 86.80L504.10 88.80L502.34 86.80Z" fill="#005f00" stroke="#222" stroke-width="0.6"/>
<path d="M498.20 89.50L499.96 91.50L498.20 93.50L496.44 91.50Z" fill="#005f00" stroke="#222" stroke-width="0.6"/>
<path d="M497.30 101.70L499.06 103.70L497.30 105.70L495.54 103.70Z" fill="#005f00" stroke="#222" stroke-width="0.6"/>
<line x1="520.15" y1="112.10" x2="520.15" y2="107.40" stroke="#111" stroke-width="0.9"/>
<line x1="516.65" y1="107.40" x2="523.65" y2="107.40" stroke="#111" stroke-width="1.1"/>
<rect x="512.80" y="112.10" width="14.70" height="23.00" fill="#a0692a" stroke="#1a1a1a" stroke-width="0.6"/>
<circle cx="520.30" cy="94.50" r="1.60" fill="#c8882a" stroke="#222" stroke-width="0.6"/>
<circle cx="520.30" cy="105.10" r="1.60" fill="#c8882a" stroke="#222" stroke-width="0.6"/>
<circle cx="517.00" cy="118.50" r="1.60" fill="#c8882a" stroke="#222" stroke-width="0.6"/>
<circle cx="523.60" cy="118.50" r="1.60" fill="#c8882a" stroke="#222" stroke-width="0.6"/>
<circle cx="521.20" cy="121.50" r="1.60" fill="#c8882a" stroke="#222" stroke-width="0.6"/>
<circle cx="520.50" cy="110.00" r="1.60" fill="#c8882a" stroke="#222" stroke-width="0.6"/>
<line x1="449.40" y1="57.00" x2="472.40" y2="57.00" stroke="#111" stroke-width="1.2"/>
<line x1="449.40" y1="53.80" x2="449.40" y2="60.20" stroke="#111" stroke-width="1.2"/>
<line x1="472.40" y1="53.80" x2="472.40" y2="60.20" stroke="#111" stroke-width="1.2"/>
<text x="460.90" y="57.30" font-size="6.0" text-anchor="middle" fill="#111">***</text>
<line x1="496.60" y1="77.00" x2="520.50" y2="77.00" stroke="#111" stroke-width="1.2"/>
<line x1="496.60" y1="73.80" x2="496.60" y2="80.20" stroke="#111" stroke-width="1.2"/>
<line x1="520.50" y1="73.80" x2="520.50" y2="80.20" stroke="#111" stroke-width="1.2"/>
<text x="508.55" y="73.90" font-size="6.5" text-anchor="middle" fill="#222">ns</text>
<text x="414.60" y="95.10" font-size="8.7" font-weight="bold" text-anchor="middle" fill="#000" transform="rotate(-90 414.6 95.1)">LDH(mmol/L/μg)</text>
<line x1="583.20" y1="56.60" x2="583.20" y2="137.20" stroke="#222" stroke-width="0.9"/>
<line x1="583.20" y1="136.80" x2="682.70" y2="136.80" stroke="#222" stroke-width="0.9"/>
<line x1="581.40" y1="137.30" x2="583.20" y2="137.30" stroke="#222" stroke-width="0.7"/>
<text x="580.80" y="139.40" font-size="6.1" font-weight="bold" text-anchor="end" fill="#000">0.045</text>
<line x1="581.40" y1="121.24" x2="583.20" y2="121.24" stroke="#222" stroke-width="0.7"/>
<text x="580.80" y="123.34" font-size="6.1" font-weight="bold" text-anchor="end" fill="#000">0.050</text>
<line x1="581.40" y1="105.18" x2="583.20" y2="105.18" stroke="#222" stroke-width="0.7"/>
<text x="580.80" y="107.28" font-size="6.1" font-weight="bold" text-anchor="end" fill="#000">0.055</text>
<line x1="581.40" y1="89.12" x2="583.20" y2="89.12" stroke="#222" stroke-width="0.7"/>
<text x="580.80" y="91.22" font-size="6.1" font-weight="bold" text-anchor="end" fill="#000">0.060</text>
<line x1="581.40" y1="73.06" x2="583.20" y2="73.06" stroke="#222" stroke-width="0.7"/>
<text x="580.80" y="75.16" font-size="6.1" font-weight="bold" text-anchor="end" fill="#000">0.065</text>
<line x1="581.40" y1="57.00" x2="583.20" y2="57.00" stroke="#222" stroke-width="0.7"/>
<text x="580.80" y="59.10" font-size="6.1" font-weight="bold" text-anchor="end" fill="#000">0.070</text>
<line x1="598.80" y1="117.30" x2="598.80" y2="115.50" stroke="#111" stroke-width="0.9"/>
<line x1="595.30" y1="115.50" x2="602.30" y2="115.50" stroke="#111" stroke-width="1.1"/>
<rect x="591.20" y="117.30" width="15.20" height="19.50" fill="#00008c" stroke="#1a1a1a" stroke-width="0.6"/>
<circle cx="599.10" cy="102.80" r="1.60" fill="#ffffff" stroke="#222" stroke-width="0.6"/>
<circle cx="595.40" cy="110.30" r="1.60" fill="#ffffff" stroke="#222" stroke-width="0.6"/>
<circle cx="602.00" cy="112.10" r="1.60" fill="#ffffff" stroke="#222" stroke-width="0.6"/>
<circle cx="596.60" cy="115.00" r="1.60" fill="#ffffff" stroke="#222" stroke-width="0.6"/>
<circle cx="599.10" cy="125.70" r="1.60" fill="#ffffff" stroke="#222" stroke-width="0.6"/>
<circle cx="599.50" cy="113.00" r="1.60" fill="#ffffff" stroke="#222" stroke-width="0.6"/>
<line x1="621.40" y1="87.30" x2="621.40" y2="82.60" stroke="#111" stroke-width="0.9"/>
<line x1="617.90" y1="82.60" x2="624.90" y2="82.60" stroke="#111" stroke-width="1.1"/>
<rect x="614.10" y="87.30" width="14.60" height="49.50" fill="#a00000" stroke="#1a1a1a" stroke-width="0.6"/>
<rect x="619.60" y="68.30" width="3.20" height="3.20" fill="#a00000" stroke="#222" stroke-width="0.6"/>
<rect x="620.10" y="81.70" width="3.20" height="3.20" fill="#a00000" stroke="#222" stroke-width="0.6"/>
<rect x="617.20" y="87.50" width="3.20" height="3.20" fill="#a00000" stroke="#222" stroke-width="0.6"/>
<rect x="623.80" y="87.10" width="3.20" height="3.20" fill="#a00000" stroke="#222" stroke-width="0.6"/>
<rect x="619.10" y="91.80" width="3.20" height="3.20" fill="#a00000" stroke="#222" stroke-width="0.6"/>
<rect x="620.10" y="96.50" width="3.20" height="3.20" fill="#a00000" stroke="#222" stroke-width="0.6"/>
<line x1="644.30" y1="104.00" x2="644.30" y2="99.70" stroke="#111" stroke-width="0.9"/>
<line x1="640.80" y1="99.70" x2="647.80" y2="99.70" stroke="#111" stroke-width="1.1"/>
<rect x="636.90" y="104.00" width="14.80" height="32.80" fill="#005f00" stroke="#1a1a1a" stroke-width="0.6"/>
<path d="M644.60 89.50L646.36 91.50L644.60 93.50L642.84 91.50Z" fill="#005f00" stroke="#222" stroke-width="0.6"/>
<path d="M644.60 94.20L646.36 96.20L644.60 98.20L642.84 96.20Z" fill="#005f00" stroke="#222" stroke-width="0.6"/>
<path d="M641.60 98.90L643.36 100.90L641.60 102.90L639.84 100.90Z" fill="#005f00" stroke="#222" stroke-width="0.6"/>
<path d="M648.20 99.30L649.96 101.30L648.20 103.30L646.44 101.30Z" fill="#005f00" stroke="#222" stroke-width="0.6"/>
<path d="M644.60 117.20L646.36 119.20L644.60 121.20L642.84 119.20Z" fill="#005f00" stroke="#222" stroke-width="0.6"/>
<path d="M647.50 105.90L649.26 107.90L647.50 109.90L645.74 107.90Z" fill="#005f00" stroke="#222" stroke-width="0.6"/>
<line x1="667.20" y1="111.70" x2="667.20" y2="109.00" stroke="#111" stroke-width="0.9"/>
<line x1="663.70" y1="109.00" x2="670.70" y2="109.00" stroke="#111" stroke-width="1.1"/>
<rect x="659.70" y="111.70" width="15.00" height="25.10" fill="#a0692a" stroke="#1a1a1a" stroke-width="0.6"/>
<circle cx="666.70" cy="101.80" r="1.60" fill="#c8882a" stroke="#222" stroke-width="0.6"/>
<circle cx="667.40" cy="108.40" r="1.60" fill="#c8882a" stroke="#222" stroke-width="0.6"/>
<circle cx="663.90" cy="113.10" r="1.60" fill="#c8882a" stroke="#222" stroke-width="0.6"/>
<circle cx="670.90" cy="113.10" r="1.60" fill="#c8882a" stroke="#222" stroke-width="0.6"/>
<circle cx="664.40" cy="119.20" r="1.60" fill="#c8882a" stroke="#222" stroke-width="0.6"/>
<circle cx="670.50" cy="118.20" r="1.60" fill="#c8882a" stroke="#222" stroke-width="0.6"/>
<line x1="596.60" y1="64.50" x2="620.20" y2="64.50" stroke="#111" stroke-width="1.2"/>
<line x1="596.60" y1="61.30" x2="596.60" y2="67.70" stroke="#111" stroke-width="1.2"/>
<line x1="620.20" y1="61.30" x2="620.20" y2="67.70" stroke="#111" stroke-width="1.2"/>
<text x="608.40" y="61.30" font-size="6.0" text-anchor="middle" fill="#111">***</text>
<line x1="643.50" y1="84.50" x2="667.60" y2="84.50" stroke="#111" stroke-width="1.2"/>
<line x1="643.50" y1="81.30" x2="643.50" y2="87.70" stroke="#111" stroke-width="1.2"/>
<line x1="667.60" y1="81.30" x2="667.60" y2="87.70" stroke="#111" stroke-width="1.2"/>
<text x="655.55" y="79.80" font-size="6.5" text-anchor="middle" fill="#222">ns</text>
<text x="561.60" y="96.90" font-size="8.7" font-weight="bold" text-anchor="middle" fill="#000" transform="rotate(-90 561.6 96.9)">PK(U/mg)</text>
<line x1="438.40" y1="175.40" x2="438.40" y2="256.40" stroke="#222" stroke-width="0.9"/>
<line x1="438.40" y1="256.00" x2="538.10" y2="256.00" stroke="#222" stroke-width="0.9"/>
<line x1="436.60" y1="256.00" x2="438.40" y2="256.00" stroke="#222" stroke-width="0.7"/>
<text x="435.50" y="258.10" font-size="6.1" font-weight="bold" text-anchor="end" fill="#000">3.7</text>
<line x1="436.60" y1="239.96" x2="438.40" y2="239.96" stroke="#222" stroke-width="0.7"/>
<text x="435.50" y="242.06" font-size="6.1" font-weight="bold" text-anchor="end" fill="#000">3.8</text>
<line x1="436.60" y1="223.92" x2="438.40" y2="223.92" stroke="#222" stroke-width="0.7"/>
<text x="435.50" y="226.02" font-size="6.1" font-weight="bold" text-anchor="end" fill="#000">3.9</text>
<line x1="436.60" y1="207.88" x2="438.40" y2="207.88" stroke="#222" stroke-width="0.7"/>
<text x="435.50" y="209.98" font-size="6.1" font-weight="bold" text-anchor="end" fill="#000">4.0</text>
<line x1="436.60" y1="191.84" x2="438.40" y2="191.84" stroke="#222" stroke-width="0.7"/>
<text x="435.50" y="193.94" font-size="6.1" font-weight="bold" text-anchor="end" fill="#000">4.1</text>
<line x1="436.60" y1="175.80" x2="438.40" y2="175.80" stroke="#222" stroke-width="0.7"/>
<text x="435.50" y="177.90" font-size="6.1" font-weight="bold" text-anchor="end" fill="#000">4.2</text>
<line x1="454.25" y1="224.60" x2="454.25" y2="221.00" stroke="#111" stroke-width="0.9"/>
<line x1="450.75" y1="221.00" x2="457.75" y2="221.00" stroke="#111" stroke-width="1.1"/>
<rect x="446.60" y="224.60" width="15.30" height="31.40" fill="#00008c" stroke="#1a1a1a" stroke-width="0.6"/>
<circle cx="454.10" cy="212.20" r="1.60" fill="#ffffff" stroke="#222" stroke-width="0.6"/>
<circle cx="447.80" cy="225.50" r="1.60" fill="#ffffff" stroke="#222" stroke-width="0.6"/>
<circle cx="453.70" cy="226.50" r="1.60" fill="#ffffff" stroke="#222" stroke-width="0.6"/>
<circle cx="459.50" cy="226.50" r="1.60" fill="#ffffff" stroke="#222" stroke-width="0.6"/>
<circle cx="454.10" cy="234.00" r="1.60" fill="#ffffff" stroke="#222" stroke-width="0.6"/>
<circle cx="455.00" cy="221.50" r="1.60" fill="#ffffff" stroke="#222" stroke-width="0.6"/>
<line x1="477.10" y1="208.20" x2="477.10" y2="204.40" stroke="#111" stroke-width="0.9"/>
<line x1="473.60" y1="204.40" x2="480.60" y2="204.40" stroke="#111" stroke-width="1.1"/>
<rect x="469.60" y="208.20" width="15.00" height="47.80" fill="#a00000" stroke="#1a1a1a" stroke-width="0.6"/>
<rect x="475.00" y="194.90" width="3.20" height="3.20" fill="#a00000" stroke="#222" stroke-width="0.6"/>
<rect x="475.00" y="199.50" width="3.20" height="3.20" fill="#a00000" stroke="#222" stroke-width="0.6"/>
<rect x="470.80" y="204.20" width="3.20" height="3.20" fill="#a00000" stroke="#222" stroke-width="0.6"/>
<rect x="479.00" y="204.20" width="3.20" height="3.20" fill="#a00000" stroke="#222" stroke-width="0.6"/>
<rect x="475.00" y="212.20" width="3.20" height="3.20" fill="#a00000" stroke="#222" stroke-width="0.6"/>
<rect x="475.00" y="217.60" width="3.20" height="3.20" fill="#a00000" stroke="#222" stroke-width="0.6"/>
<line x1="499.60" y1="237.30" x2="499.60" y2="234.50" stroke="#111" stroke-width="0.9"/>
<line x1="496.10" y1="234.50" x2="503.10" y2="234.50" stroke="#111" stroke-width="1.1"/>
<rect x="492.10" y="237.30" width="15.00" height="18.70" fill="#005f00" stroke="#1a1a1a" stroke-width="0.6"/>
<path d="M499.60 226.80L501.36 228.80L499.60 230.80L497.84 228.80Z" fill="#005f00" stroke="#222" stroke-width="0.6"/>
<path d="M499.60 230.60L501.36 232.60L499.60 234.60L497.84 232.60Z" fill="#005f00" stroke="#222" stroke-width="0.6"/>
<path d="M495.90 235.30L497.66 237.30L495.90 239.30L494.14 237.30Z" fill="#005f00" stroke="#222" stroke-width="0.6"/>
<path d="M502.90 235.30L504.66 237.30L502.90 239.30L501.14 237.30Z" fill="#005f00" stroke="#222" stroke-width="0.6"/>
<path d="M496.30 243.00L498.06 245.00L496.30 247.00L494.54 245.00Z" fill="#005f00" stroke="#222" stroke-width="0.6"/>
<path d="M502.90 240.70L504.66 242.70L502.90 244.70L501.14 242.70Z" fill="#005f00" stroke="#222" stroke-width="0.6"/>
<line x1="522.25" y1="244.30" x2="522.25" y2="242.60" stroke="#111" stroke-width="0.9"/>
<line x1="518.75" y1="242.60" x2="525.75" y2="242.60" stroke="#111" stroke-width="1.1"/>
<rect x="514.60" y="244.30" width="15.30" height="11.70" fill="#a0692a" stroke="#1a1a1a" stroke-width="0.6"/>
<circle cx="521.70" cy="238.20" r="1.60" fill="#c8882a" stroke="#222" stroke-width="0.6"/>
<circle cx="517.00" cy="243.40" r="1.60" fill="#c8882a" stroke="#222" stroke-width="0.6"/>
<circle cx="521.70" cy="246.20" r="1.60" fill="#c8882a" stroke="#222" stroke-width="0.6"/>
<circle cx="526.80" cy="243.40" r="1.60" fill="#c8882a" stroke="#222" stroke-width="0.6"/>
<circle cx="518.00" cy="247.00" r="1.60" fill="#c8882a" stroke="#222" stroke-width="0.6"/>
<circle cx="527.00" cy="247.00" r="1.60" fill="#c8882a" stroke="#222" stroke-width="0.6"/>
<line x1="451.30" y1="181.70" x2="476.60" y2="181.70" stroke="#111" stroke-width="1.2"/>
<line x1="451.30" y1="178.50" x2="451.30" y2="184.90" stroke="#111" stroke-width="1.2"/>
<line x1="476.60" y1="178.50" x2="476.60" y2="184.90" stroke="#111" stroke-width="1.2"/>
<text x="463.95" y="180.10" font-size="6.0" text-anchor="middle" fill="#111">**</text>
<line x1="498.20" y1="215.20" x2="521.70" y2="215.20" stroke="#111" stroke-width="1.2"/>
<line x1="498.20" y1="212.00" x2="498.20" y2="218.40" stroke="#111" stroke-width="1.2"/>
<line x1="521.70" y1="212.00" x2="521.70" y2="218.40" stroke="#111" stroke-width="1.2"/>
<text x="509.95" y="207.00" font-size="6.5" text-anchor="middle" fill="#222">ns</text>
<text x="411.50" y="215.90" font-size="8.6" font-weight="bold" text-anchor="middle" fill="#000" transform="rotate(-90 411.5 215.9)">Extracellular Lactate</text>
<text x="423.30" y="215.90" font-size="8.6" font-weight="bold" text-anchor="middle" fill="#000" transform="rotate(-90 423.3 215.9)">(μmol/mg)</text>
<line x1="585.50" y1="177.30" x2="585.50" y2="258.80" stroke="#222" stroke-width="0.9"/>
<line x1="585.50" y1="258.40" x2="685.00" y2="258.40" stroke="#222" stroke-width="0.9"/>
<line x1="583.70" y1="258.40" x2="585.50" y2="258.40" stroke="#222" stroke-width="0.7"/>
<text x="583.80" y="260.50" font-size="6.1" font-weight="bold" text-anchor="end" fill="#000">1.8</text>
<line x1="583.70" y1="238.23" x2="585.50" y2="238.23" stroke="#222" stroke-width="0.7"/>
<text x="583.80" y="240.33" font-size="6.1" font-weight="bold" text-anchor="end" fill="#000">1.9</text>
<line x1="583.70" y1="218.06" x2="585.50" y2="218.06" stroke="#222" stroke-width="0.7"/>
<text x="583.80" y="220.16" font-size="6.1" font-weight="bold" text-anchor="end" fill="#000">2.0</text>
<line x1="583.70" y1="197.89" x2="585.50" y2="197.89" stroke="#222" stroke-width="0.7"/>
<text x="583.80" y="199.99" font-size="6.1" font-weight="bold" text-anchor="end" fill="#000">2.1</text>
<line x1="583.70" y1="177.72" x2="585.50" y2="177.72" stroke="#222" stroke-width="0.7"/>
<text x="583.80" y="179.82" font-size="6.1" font-weight="bold" text-anchor="end" fill="#000">2.2</text>
<line x1="601.25" y1="233.30" x2="601.25" y2="231.00" stroke="#111" stroke-width="0.9"/>
<line x1="597.75" y1="231.00" x2="604.75" y2="231.00" stroke="#111" stroke-width="1.1"/>
<rect x="593.70" y="233.30" width="15.10" height="25.10" fill="#00008c" stroke="#1a1a1a" stroke-width="0.6"/>
<circle cx="595.90" cy="228.60" r="1.60" fill="#ffffff" stroke="#222" stroke-width="0.6"/>
<circle cx="601.20" cy="227.40" r="1.60" fill="#ffffff" stroke="#222" stroke-width="0.6"/>
<circle cx="607.10" cy="231.40" r="1.60" fill="#ffffff" stroke="#222" stroke-width="0.6"/>
<circle cx="597.70" cy="239.10" r="1.60" fill="#ffffff" stroke="#222" stroke-width="0.6"/>
<circle cx="604.30" cy="237.30" r="1.60" fill="#ffffff" stroke="#222" stroke-width="0.6"/>
<circle cx="601.00" cy="233.00" r="1.60" fill="#ffffff" stroke="#222" stroke-width="0.6"/>
<line x1="624.10" y1="207.70" x2="624.10" y2="203.50" stroke="#111" stroke-width="0.9"/>
<line x1="620.60" y1="203.50" x2="627.60" y2="203.50" stroke="#111" stroke-width="1.1"/>
<rect x="616.50" y="207.70" width="15.20" height="50.70" fill="#a00000" stroke="#1a1a1a" stroke-width="0.6"/>
<rect x="622.40" y="193.00" width="3.20" height="3.20" fill="#a00000" stroke="#222" stroke-width="0.6"/>
<rect x="619.10" y="197.20" width="3.20" height="3.20" fill="#a00000" stroke="#222" stroke-width="0.6"/>
<rect x="625.70" y="199.10" width="3.20" height="3.20" fill="#a00000" stroke="#222" stroke-width="0.6"/>
<rect x="618.20" y="212.90" width="3.20" height="3.20" fill="#a00000" stroke="#222" stroke-width="0.6"/>
<rect x="624.70" y="213.40" width="3.20" height="3.20" fill="#a00000" stroke="#222" stroke-width="0.6"/>
<rect x="622.40" y="220.20" width="3.20" height="3.20" fill="#a00000" stroke="#222" stroke-width="0.6"/>
<line x1="646.80" y1="238.70" x2="646.80" y2="236.80" stroke="#111" stroke-width="0.9"/>
<line x1="643.30" y1="236.80" x2="650.30" y2="236.80" stroke="#111" stroke-width="1.1"/>
<rect x="639.30" y="238.70" width="15.00" height="19.70" fill="#005f00" stroke="#1a1a1a" stroke-width="0.6"/>
<path d="M646.50 231.30L648.26 233.30L646.50 235.30L644.74 233.30Z" fill="#005f00" stroke="#222" stroke-width="0.6"/>
<path d="M640.70 237.10L642.46 239.10L640.70 241.10L638.94 239.10Z" fill="#005f00" stroke="#222" stroke-width="0.6"/>
<path d="M645.80 238.30L647.56 240.30L645.80 242.30L644.04 240.30Z" fill="#005f00" stroke="#222" stroke-width="0.6"/>
<path d="M652.90 237.90L654.66 239.90L652.90 241.90L651.14 239.90Z" fill="#005f00" stroke="#222" stroke-width="0.6"/>
<path d="M643.00 238.00L644.76 240.00L643.00 242.00L641.24 240.00Z" fill="#005f00" stroke="#222" stroke-width="0.6"/>
<path d="M650.00 239.00L651.76 241.00L650.00 243.00L648.24 241.00Z" fill="#005f00" stroke="#222" stroke-width="0.6"/>
<line x1="669.50" y1="230.70" x2="669.50" y2="226.20" stroke="#111" stroke-width="0.9"/>
<line x1="666.00" y1="226.20" x2="673.00" y2="226.20" stroke="#111" stroke-width="1.1"/>
<rect x="662.00" y="230.70" width="15.00" height="27.70" fill="#a0692a" stroke="#1a1a1a" stroke-width="0.6"/>
<circle cx="669.30" cy="219.20" r="1.60" fill="#c8882a" stroke="#222" stroke-width="0.6"/>
<circle cx="665.80" cy="226.20" r="1.60" fill="#c8882a" stroke="#222" stroke-width="0.6"/>
<circle cx="672.30" cy="227.40" r="1.60" fill="#c8882a" stroke="#222" stroke-width="0.6"/>
<circle cx="668.60" cy="229.30" r="1.60" fill="#c8882a" stroke="#222" stroke-width="0.6"/>
<circle cx="669.30" cy="237.30" r="1.60" fill="#c8882a" stroke="#222" stroke-width="0.6"/>
<circle cx="669.30" cy="243.80" r="1.60" fill="#c8882a" stroke="#222" stroke-width="0.6"/>
<line x1="599.60" y1="188.20" x2="623.50" y2="188.20" stroke="#111" stroke-width="1.2"/>
<line x1="599.60" y1="185.00" x2="599.60" y2="191.40" stroke="#111" stroke-width="1.2"/>
<line x1="623.50" y1="185.00" x2="623.50" y2="191.40" stroke="#111" stroke-width="1.2"/>
<text x="611.55" y="185.50" font-size="6.0" text-anchor="middle" fill="#111">***</text>
<line x1="646.00" y1="211.70" x2="670.50" y2="211.70" stroke="#111" stroke-width="1.2"/>
<line x1="646.00" y1="208.50" x2="646.00" y2="214.90" stroke="#111" stroke-width="1.2"/>
<line x1="670.50" y1="208.50" x2="670.50" y2="214.90" stroke="#111" stroke-width="1.2"/>
<text x="658.25" y="208.70" font-size="6.5" text-anchor="middle" fill="#222">ns</text>
<text x="559.20" y="218.05" font-size="8.6" font-weight="bold" text-anchor="middle" fill="#000" transform="rotate(-90 559.2 218.04999999999998)">Intracellular Lactate</text>
<text x="571.00" y="218.05" font-size="8.6" font-weight="bold" text-anchor="middle" fill="#000" transform="rotate(-90 571 218.04999999999998)">(μmol/mg)</text>
<line x1="51.00" y1="405.60" x2="51.00" y2="516.30" stroke="#333" stroke-width="1.4"/>
<line x1="50.30" y1="515.70" x2="160.80" y2="515.70" stroke="#333" stroke-width="1.3"/>
<line x1="48.80" y1="515.70" x2="51.00" y2="515.70" stroke="#222" stroke-width="0.9"/>
<text x="47.40" y="518.50" font-size="7.9" font-weight="bold" text-anchor="end" fill="#000">0</text>
<line x1="48.80" y1="484.45" x2="51.00" y2="484.45" stroke="#222" stroke-width="0.9"/>
<text x="47.40" y="487.25" font-size="7.9" font-weight="bold" text-anchor="end" fill="#000">200</text>
<line x1="48.80" y1="453.20" x2="51.00" y2="453.20" stroke="#222" stroke-width="0.9"/>
<text x="47.40" y="456.00" font-size="7.9" font-weight="bold" text-anchor="end" fill="#000">400</text>
<line x1="48.80" y1="421.95" x2="51.00" y2="421.95" stroke="#222" stroke-width="0.9"/>
<text x="47.40" y="424.75" font-size="7.9" font-weight="bold" text-anchor="end" fill="#000">600</text>
<line x1="50.90" y1="515.70" x2="50.90" y2="518.00" stroke="#222" stroke-width="0.9"/>
<text x="50.90" y="528.20" font-size="8.2" font-weight="bold" text-anchor="middle" fill="#000">0</text>
<line x1="72.90" y1="515.70" x2="72.90" y2="518.00" stroke="#222" stroke-width="0.9"/>
<text x="72.90" y="528.20" font-size="8.2" font-weight="bold" text-anchor="middle" fill="#000">5</text>
<line x1="94.90" y1="515.70" x2="94.90" y2="518.00" stroke="#222" stroke-width="0.9"/>
<text x="94.90" y="528.20" font-size="8.2" font-weight="bold" text-anchor="middle" fill="#000">10</text>
<line x1="116.90" y1="515.70" x2="116.90" y2="518.00" stroke="#222" stroke-width="0.9"/>
<text x="116.90" y="528.20" font-size="8.2" font-weight="bold" text-anchor="middle" fill="#000">15</text>
<line x1="138.90" y1="515.70" x2="138.90" y2="518.00" stroke="#222" stroke-width="0.9"/>
<text x="138.90" y="528.20" font-size="8.2" font-weight="bold" text-anchor="middle" fill="#000">20</text>
<line x1="160.90" y1="515.70" x2="160.90" y2="518.00" stroke="#222" stroke-width="0.9"/>
<text x="160.90" y="528.20" font-size="8.2" font-weight="bold" text-anchor="middle" fill="#000">25</text>
<text x="105.70" y="541.80" font-size="9.1" font-weight="bold" text-anchor="middle" fill="#000">Days</text>
<text x="27.2" y="460.5" font-size="10.2" font-weight="bold" text-anchor="middle" transform="rotate(-90 27.2 460.5)">Tumor volume(mm<tspan font-size="6.5" dy="-3.8">3</tspan><tspan dy="3.8">)</tspan></text>
<polyline points="50.90,515.70 86.10,509.92 99.30,508.36 116.90,500.39 130.10,494.61 147.70,494.14" fill="none" stroke="#c8944a" stroke-width="1.3"/>
<circle cx="50.90" cy="515.70" r="2.20" fill="#c8944a" stroke="#c8944a" stroke-width="0.1"/>
<line x1="86.10" y1="510.70" x2="86.10" y2="509.14" stroke="#c8944a" stroke-width="1.1"/>
<line x1="84.10" y1="509.14" x2="88.10" y2="509.14" stroke="#c8944a" stroke-width="1.1"/>
<line x1="84.10" y1="510.70" x2="88.10" y2="510.70" stroke="#c8944a" stroke-width="1.1"/>
<circle cx="86.10" cy="509.92" r="2.20" fill="#c8944a" stroke="#c8944a" stroke-width="0.1"/>
<line x1="99.30" y1="509.14" x2="99.30" y2="507.58" stroke="#c8944a" stroke-width="1.1"/>
<line x1="97.30" y1="507.58" x2="101.30" y2="507.58" stroke="#c8944a" stroke-width="1.1"/>
<line x1="97.30" y1="509.14" x2="101.30" y2="509.14" stroke="#c8944a" stroke-width="1.1"/>
<circle cx="99.30" cy="508.36" r="2.20" fill="#c8944a" stroke="#c8944a" stroke-width="0.1"/>
<line x1="116.90" y1="501.95" x2="116.90" y2="498.83" stroke="#c8944a" stroke-width="1.1"/>
<line x1="114.90" y1="498.83" x2="118.90" y2="498.83" stroke="#c8944a" stroke-width="1.1"/>
<line x1="114.90" y1="501.95" x2="118.90" y2="501.95" stroke="#c8944a" stroke-width="1.1"/>
<circle cx="116.90" cy="500.39" r="2.20" fill="#c8944a" stroke="#c8944a" stroke-width="0.1"/>
<line x1="130.10" y1="498.51" x2="130.10" y2="490.70" stroke="#c8944a" stroke-width="1.1"/>
<line x1="128.10" y1="490.70" x2="132.10" y2="490.70" stroke="#c8944a" stroke-width="1.1"/>
<line x1="128.10" y1="498.51" x2="132.10" y2="498.51" stroke="#c8944a" stroke-width="1.1"/>
<circle cx="130.10" cy="494.61" r="2.20" fill="#c8944a" stroke="#c8944a" stroke-width="0.1"/>
<line x1="147.70" y1="498.04" x2="147.70" y2="490.23" stroke="#c8944a" stroke-width="1.1"/>
<line x1="145.70" y1="490.23" x2="149.70" y2="490.23" stroke="#c8944a" stroke-width="1.1"/>
<line x1="145.70" y1="498.04" x2="149.70" y2="498.04" stroke="#c8944a" stroke-width="1.1"/>
<circle cx="147.70" cy="494.14" r="2.20" fill="#c8944a" stroke="#c8944a" stroke-width="0.1"/>
<polyline points="50.90,515.70 86.10,508.36 99.30,505.86 116.90,498.83 130.10,495.08 147.70,488.36" fill="none" stroke="#187018" stroke-width="1.3"/>
<path d="M50.90 513.33L52.99 515.70L50.90 518.08L48.81 515.70Z" fill="#187018" stroke="#187018" stroke-width="0.1"/>
<line x1="86.10" y1="509.14" x2="86.10" y2="507.58" stroke="#187018" stroke-width="1.1"/>
<line x1="84.10" y1="507.58" x2="88.10" y2="507.58" stroke="#187018" stroke-width="1.1"/>
<line x1="84.10" y1="509.14" x2="88.10" y2="509.14" stroke="#187018" stroke-width="1.1"/>
<path d="M86.10 505.98L88.19 508.36L86.10 510.73L84.01 508.36Z" fill="#187018" stroke="#187018" stroke-width="0.1"/>
<line x1="99.30" y1="507.11" x2="99.30" y2="504.61" stroke="#187018" stroke-width="1.1"/>
<line x1="97.30" y1="504.61" x2="101.30" y2="504.61" stroke="#187018" stroke-width="1.1"/>
<line x1="97.30" y1="507.11" x2="101.30" y2="507.11" stroke="#187018" stroke-width="1.1"/>
<path d="M99.30 503.48L101.39 505.86L99.30 508.23L97.21 505.86Z" fill="#187018" stroke="#187018" stroke-width="0.1"/>
<line x1="116.90" y1="501.17" x2="116.90" y2="496.48" stroke="#187018" stroke-width="1.1"/>
<line x1="114.90" y1="496.48" x2="118.90" y2="496.48" stroke="#187018" stroke-width="1.1"/>
<line x1="114.90" y1="501.17" x2="118.90" y2="501.17" stroke="#187018" stroke-width="1.1"/>
<path d="M116.90 496.45L118.99 498.83L116.90 501.20L114.81 498.83Z" fill="#187018" stroke="#187018" stroke-width="0.1"/>
<line x1="130.10" y1="498.20" x2="130.10" y2="491.95" stroke="#187018" stroke-width="1.1"/>
<line x1="128.10" y1="491.95" x2="132.10" y2="491.95" stroke="#187018" stroke-width="1.1"/>
<line x1="128.10" y1="498.20" x2="132.10" y2="498.20" stroke="#187018" stroke-width="1.1"/>
<path d="M130.10 492.70L132.19 495.08L130.10 497.45L128.01 495.08Z" fill="#187018" stroke="#187018" stroke-width="0.1"/>
<line x1="147.70" y1="491.48" x2="147.70" y2="485.23" stroke="#187018" stroke-width="1.1"/>
<line x1="145.70" y1="485.23" x2="149.70" y2="485.23" stroke="#187018" stroke-width="1.1"/>
<line x1="145.70" y1="491.48" x2="149.70" y2="491.48" stroke="#187018" stroke-width="1.1"/>
<path d="M147.70 485.98L149.79 488.36L147.70 490.73L145.61 488.36Z" fill="#187018" stroke="#187018" stroke-width="0.1"/>
<polyline points="50.90,515.70 86.10,513.20 99.30,512.73 116.90,506.48 130.10,503.98 147.70,505.23" fill="none" stroke="#10109a" stroke-width="1.3"/>
<circle cx="50.90" cy="515.70" r="2.20" fill="#10109a" stroke="#10109a" stroke-width="0.1"/>
<line x1="86.10" y1="513.98" x2="86.10" y2="512.42" stroke="#10109a" stroke-width="1.1"/>
<line x1="84.10" y1="512.42" x2="88.10" y2="512.42" stroke="#10109a" stroke-width="1.1"/>
<line x1="84.10" y1="513.98" x2="88.10" y2="513.98" stroke="#10109a" stroke-width="1.1"/>
<circle cx="86.10" cy="513.20" r="2.20" fill="#10109a" stroke="#10109a" stroke-width="0.1"/>
<line x1="99.30" y1="513.51" x2="99.30" y2="511.95" stroke="#10109a" stroke-width="1.1"/>
<line x1="97.30" y1="511.95" x2="101.30" y2="511.95" stroke="#10109a" stroke-width="1.1"/>
<line x1="97.30" y1="513.51" x2="101.30" y2="513.51" stroke="#10109a" stroke-width="1.1"/>
<circle cx="99.30" cy="512.73" r="2.20" fill="#10109a" stroke="#10109a" stroke-width="0.1"/>
<line x1="116.90" y1="508.83" x2="116.90" y2="504.14" stroke="#10109a" stroke-width="1.1"/>
<line x1="114.90" y1="504.14" x2="118.90" y2="504.14" stroke="#10109a" stroke-width="1.1"/>
<line x1="114.90" y1="508.83" x2="118.90" y2="508.83" stroke="#10109a" stroke-width="1.1"/>
<circle cx="116.90" cy="506.48" r="2.20" fill="#10109a" stroke="#10109a" stroke-width="0.1"/>
<line x1="130.10" y1="507.11" x2="130.10" y2="500.86" stroke="#10109a" stroke-width="1.1"/>
<line x1="128.10" y1="500.86" x2="132.10" y2="500.86" stroke="#10109a" stroke-width="1.1"/>
<line x1="128.10" y1="507.11" x2="132.10" y2="507.11" stroke="#10109a" stroke-width="1.1"/>
<circle cx="130.10" cy="503.98" r="2.20" fill="#10109a" stroke="#10109a" stroke-width="0.1"/>
<line x1="147.70" y1="508.36" x2="147.70" y2="502.11" stroke="#10109a" stroke-width="1.1"/>
<line x1="145.70" y1="502.11" x2="149.70" y2="502.11" stroke="#10109a" stroke-width="1.1"/>
<line x1="145.70" y1="508.36" x2="149.70" y2="508.36" stroke="#10109a" stroke-width="1.1"/>
<circle cx="147.70" cy="505.23" r="2.20" fill="#10109a" stroke="#10109a" stroke-width="0.1"/>
<polyline points="50.90,515.70 86.10,505.86 99.30,496.64 116.90,481.01 130.10,453.67 147.70,427.11" fill="none" stroke="#b51a1a" stroke-width="1.3"/>
<rect x="48.60" y="513.40" width="4.60" height="4.60" fill="#b51a1a" stroke="#b51a1a" stroke-width="0.1"/>
<line x1="86.10" y1="507.11" x2="86.10" y2="504.61" stroke="#b51a1a" stroke-width="1.1"/>
<line x1="84.10" y1="504.61" x2="88.10" y2="504.61" stroke="#b51a1a" stroke-width="1.1"/>
<line x1="84.10" y1="507.11" x2="88.10" y2="507.11" stroke="#b51a1a" stroke-width="1.1"/>
<rect x="83.80" y="503.56" width="4.60" height="4.60" fill="#b51a1a" stroke="#b51a1a" stroke-width="0.1"/>
<line x1="99.30" y1="498.20" x2="99.30" y2="495.08" stroke="#b51a1a" stroke-width="1.1"/>
<line x1="97.30" y1="495.08" x2="101.30" y2="495.08" stroke="#b51a1a" stroke-width="1.1"/>
<line x1="97.30" y1="498.20" x2="101.30" y2="498.20" stroke="#b51a1a" stroke-width="1.1"/>
<rect x="97.00" y="494.34" width="4.60" height="4.60" fill="#b51a1a" stroke="#b51a1a" stroke-width="0.1"/>
<line x1="116.90" y1="486.01" x2="116.90" y2="476.01" stroke="#b51a1a" stroke-width="1.1"/>
<line x1="114.90" y1="476.01" x2="118.90" y2="476.01" stroke="#b51a1a" stroke-width="1.1"/>
<line x1="114.90" y1="486.01" x2="118.90" y2="486.01" stroke="#b51a1a" stroke-width="1.1"/>
<rect x="114.60" y="478.71" width="4.60" height="4.60" fill="#b51a1a" stroke="#b51a1a" stroke-width="0.1"/>
<line x1="130.10" y1="462.26" x2="130.10" y2="445.08" stroke="#b51a1a" stroke-width="1.1"/>
<line x1="128.10" y1="445.08" x2="132.10" y2="445.08" stroke="#b51a1a" stroke-width="1.1"/>
<line x1="128.10" y1="462.26" x2="132.10" y2="462.26" stroke="#b51a1a" stroke-width="1.1"/>
<rect x="127.80" y="451.37" width="4.60" height="4.60" fill="#b51a1a" stroke="#b51a1a" stroke-width="0.1"/>
<line x1="147.70" y1="441.64" x2="147.70" y2="412.58" stroke="#b51a1a" stroke-width="1.1"/>
<line x1="145.70" y1="412.58" x2="149.70" y2="412.58" stroke="#b51a1a" stroke-width="1.1"/>
<line x1="145.70" y1="441.64" x2="149.70" y2="441.64" stroke="#b51a1a" stroke-width="1.1"/>
<rect x="145.40" y="424.81" width="4.60" height="4.60" fill="#b51a1a" stroke="#b51a1a" stroke-width="0.1"/>
<line x1="154.30" y1="426.20" x2="154.30" y2="506.50" stroke="#222" stroke-width="0.9"/>
<text x="155.00" y="450.50" font-size="8" text-anchor="middle" fill="#111" transform="rotate(90 155.0 450.5)">***</text>
<line x1="54.20" y1="390.70" x2="66.10" y2="390.70" stroke="#187018" stroke-width="1.2"/>
<path d="M60.20 388.32L62.29 390.70L60.20 393.07L58.11 390.70Z" fill="#187018" stroke="#187018" stroke-width="0.1"/>
<text x="72.70" y="394.60" font-size="8.9" fill="#111">KDM6A<tspan font-size="6.8" dy="-4.63">S829A</tspan><tspan dy="4.63">+PER2</tspan></text>
<line x1="54.20" y1="404.30" x2="66.10" y2="404.30" stroke="#c8944a" stroke-width="1.2"/>
<circle cx="60.20" cy="404.30" r="2.20" fill="#c8944a" stroke="#c8944a" stroke-width="0.1"/>
<text x="72.70" y="408.20" font-size="8.9" fill="#111">KDM6A<tspan font-size="6.8" dy="-4.63">S829D</tspan><tspan dy="4.63">+PER2</tspan></text>
<line x1="54.20" y1="421.40" x2="66.10" y2="421.40" stroke="#10109a" stroke-width="1.2"/>
<circle cx="60.20" cy="421.40" r="2.20" fill="#10109a" stroke="#10109a" stroke-width="0.1"/>
<text x="73.90" y="425.30" font-size="8.9" fill="#111">KDM6A<tspan font-size="6.8" dy="-4.63">S829A</tspan></text>
<line x1="54.20" y1="438.60" x2="66.10" y2="438.60" stroke="#b51a1a" stroke-width="1.2"/>
<rect x="57.80" y="436.20" width="4.80" height="4.80" fill="#b51a1a" stroke="#b51a1a" stroke-width="0.1"/>
<text x="73.90" y="442.50" font-size="8.9" fill="#111">KDM6A<tspan font-size="6.8" dy="-4.63">S829D</tspan></text>
<line x1="229.60" y1="424.00" x2="229.60" y2="520.80" stroke="#222" stroke-width="0.9"/>
<line x1="229.20" y1="520.40" x2="340.00" y2="520.40" stroke="#222" stroke-width="0.9"/>
<line x1="227.60" y1="520.40" x2="229.60" y2="520.40" stroke="#222" stroke-width="0.9"/>
<text x="227.00" y="522.90" font-size="7.1" font-weight="bold" text-anchor="end" fill="#000">0.0</text>
<line x1="227.60" y1="488.40" x2="229.60" y2="488.40" stroke="#222" stroke-width="0.9"/>
<text x="227.00" y="490.90" font-size="7.1" font-weight="bold" text-anchor="end" fill="#000">0.2</text>
<line x1="227.60" y1="456.40" x2="229.60" y2="456.40" stroke="#222" stroke-width="0.9"/>
<text x="227.00" y="458.90" font-size="7.1" font-weight="bold" text-anchor="end" fill="#000">0.4</text>
<line x1="227.60" y1="424.40" x2="229.60" y2="424.40" stroke="#222" stroke-width="0.9"/>
<text x="227.00" y="426.90" font-size="7.1" font-weight="bold" text-anchor="end" fill="#000">0.6</text>
<line x1="248.75" y1="514.20" x2="248.75" y2="511.30" stroke="#111" stroke-width="1.0"/>
<line x1="244.75" y1="511.30" x2="252.75" y2="511.30" stroke="#111" stroke-width="1.1"/>
<rect x="239.80" y="514.20" width="17.90" height="6.20" fill="#00008c" stroke="#1a1a1a" stroke-width="0.6"/>
<circle cx="248.50" cy="496.30" r="1.95" fill="#0a0ab8" stroke="#111" stroke-width="0.6"/>
<circle cx="248.50" cy="505.60" r="1.95" fill="#0a0ab8" stroke="#111" stroke-width="0.6"/>
<circle cx="248.50" cy="509.40" r="1.95" fill="#0a0ab8" stroke="#111" stroke-width="0.6"/>
<circle cx="245.60" cy="512.60" r="1.95" fill="#0a0ab8" stroke="#111" stroke-width="0.6"/>
<circle cx="248.50" cy="512.30" r="1.95" fill="#0a0ab8" stroke="#111" stroke-width="0.6"/>
<circle cx="251.40" cy="512.60" r="1.95" fill="#0a0ab8" stroke="#111" stroke-width="0.6"/>
<circle cx="242.70" cy="515.60" r="1.95" fill="#0a0ab8" stroke="#111" stroke-width="0.6"/>
<circle cx="247.00" cy="516.20" r="1.95" fill="#0a0ab8" stroke="#111" stroke-width="0.6"/>
<circle cx="251.40" cy="516.20" r="1.95" fill="#0a0ab8" stroke="#111" stroke-width="0.6"/>
<circle cx="254.20" cy="516.20" r="1.95" fill="#0a0ab8" stroke="#111" stroke-width="0.6"/>
<line x1="275.95" y1="480.00" x2="275.95" y2="472.30" stroke="#111" stroke-width="1.0"/>
<line x1="271.95" y1="472.30" x2="279.95" y2="472.30" stroke="#111" stroke-width="1.1"/>
<rect x="267.30" y="480.00" width="17.30" height="40.40" fill="#a00000" stroke="#1a1a1a" stroke-width="0.6"/>
<rect x="273.85" y="435.95" width="3.90" height="3.90" fill="#b01010" stroke="#111" stroke-width="0.6"/>
<rect x="273.85" y="454.55" width="3.90" height="3.90" fill="#b01010" stroke="#111" stroke-width="0.6"/>
<rect x="273.85" y="458.95" width="3.90" height="3.90" fill="#b01010" stroke="#111" stroke-width="0.6"/>
<rect x="273.85" y="468.45" width="3.90" height="3.90" fill="#b01010" stroke="#111" stroke-width="0.6"/>
<rect x="281.15" y="483.05" width="3.90" height="3.90" fill="#b01010" stroke="#111" stroke-width="0.6"/>
<rect x="273.85" y="487.75" width="3.90" height="3.90" fill="#b01010" stroke="#111" stroke-width="0.6"/>
<rect x="273.85" y="491.15" width="3.90" height="3.90" fill="#b01010" stroke="#111" stroke-width="0.6"/>
<rect x="266.75" y="497.85" width="3.90" height="3.90" fill="#b01010" stroke="#111" stroke-width="0.6"/>
<rect x="273.85" y="497.25" width="3.90" height="3.90" fill="#b01010" stroke="#111" stroke-width="0.6"/>
<rect x="281.15" y="497.85" width="3.90" height="3.90" fill="#b01010" stroke="#111" stroke-width="0.6"/>
<line x1="303.05" y1="506.90" x2="303.05" y2="502.70" stroke="#111" stroke-width="1.0"/>
<line x1="299.05" y1="502.70" x2="307.05" y2="502.70" stroke="#111" stroke-width="1.1"/>
<rect x="294.20" y="506.90" width="17.70" height="13.50" fill="#005f00" stroke="#1a1a1a" stroke-width="0.6"/>
<path d="M302.90 473.43L304.99 475.80L302.90 478.18L300.81 475.80Z" fill="#0b6a1b" stroke="#111" stroke-width="0.6"/>
<path d="M296.50 503.82L298.59 506.20L296.50 508.57L294.41 506.20Z" fill="#0b6a1b" stroke="#111" stroke-width="0.6"/>
<path d="M302.70 503.23L304.79 505.60L302.70 507.98L300.61 505.60Z" fill="#0b6a1b" stroke="#111" stroke-width="0.6"/>
<path d="M306.50 503.23L308.59 505.60L306.50 507.98L304.41 505.60Z" fill="#0b6a1b" stroke="#111" stroke-width="0.6"/>
<path d="M302.70 506.62L304.79 509.00L302.70 511.38L300.61 509.00Z" fill="#0b6a1b" stroke="#111" stroke-width="0.6"/>
<path d="M306.50 507.02L308.59 509.40L306.50 511.77L304.41 509.40Z" fill="#0b6a1b" stroke="#111" stroke-width="0.6"/>
<path d="M302.70 511.83L304.79 514.20L302.70 516.58L300.61 514.20Z" fill="#0b6a1b" stroke="#111" stroke-width="0.6"/>
<path d="M308.00 512.62L310.09 515.00L308.00 517.38L305.91 515.00Z" fill="#0b6a1b" stroke="#111" stroke-width="0.6"/>
<path d="M299.40 516.12L301.49 518.50L299.40 520.88L297.31 518.50Z" fill="#0b6a1b" stroke="#111" stroke-width="0.6"/>
<line x1="330.65" y1="512.30" x2="330.65" y2="511.20" stroke="#111" stroke-width="1.0"/>
<line x1="326.65" y1="511.20" x2="334.65" y2="511.20" stroke="#111" stroke-width="1.1"/>
<rect x="321.50" y="512.30" width="18.30" height="8.10" fill="#a0692a" stroke="#1a1a1a" stroke-width="0.6"/>
<circle cx="327.90" cy="500.40" r="1.95" fill="#b07a30" stroke="#111" stroke-width="0.6"/>
<circle cx="332.70" cy="503.10" r="1.95" fill="#b07a30" stroke="#111" stroke-width="0.6"/>
<circle cx="327.90" cy="507.50" r="1.95" fill="#b07a30" stroke="#111" stroke-width="0.6"/>
<circle cx="332.70" cy="510.00" r="1.95" fill="#b07a30" stroke="#111" stroke-width="0.6"/>
<circle cx="323.50" cy="514.20" r="1.95" fill="#b07a30" stroke="#111" stroke-width="0.6"/>
<circle cx="327.90" cy="514.20" r="1.95" fill="#b07a30" stroke="#111" stroke-width="0.6"/>
<circle cx="332.20" cy="514.20" r="1.95" fill="#b07a30" stroke="#111" stroke-width="0.6"/>
<circle cx="337.00" cy="514.20" r="1.95" fill="#b07a30" stroke="#111" stroke-width="0.6"/>
<circle cx="323.50" cy="517.70" r="1.95" fill="#b07a30" stroke="#111" stroke-width="0.6"/>
<circle cx="327.90" cy="517.70" r="1.95" fill="#b07a30" stroke="#111" stroke-width="0.6"/>
<circle cx="332.20" cy="517.70" r="1.95" fill="#b07a30" stroke="#111" stroke-width="0.6"/>
<circle cx="337.00" cy="517.70" r="1.95" fill="#b07a30" stroke="#111" stroke-width="0.6"/>
<line x1="247.50" y1="430.60" x2="275.80" y2="430.60" stroke="#111" stroke-width="1.2"/>
<line x1="247.50" y1="426.80" x2="247.50" y2="434.40" stroke="#111" stroke-width="1.2"/>
<line x1="275.80" y1="426.80" x2="275.80" y2="434.40" stroke="#111" stroke-width="1.2"/>
<text x="261.65" y="429.20" font-size="5.8" text-anchor="middle" fill="#111">***</text>
<line x1="303.30" y1="468.10" x2="331.20" y2="468.10" stroke="#111" stroke-width="1.2"/>
<line x1="303.30" y1="464.30" x2="303.30" y2="471.90" stroke="#111" stroke-width="1.2"/>
<line x1="331.20" y1="464.30" x2="331.20" y2="471.90" stroke="#111" stroke-width="1.2"/>
<text x="317.25" y="458.60" font-size="6.8" text-anchor="middle" fill="#222">ns</text>
<text x="213.40" y="472.00" font-size="10.2" font-weight="bold" text-anchor="middle" fill="#000" transform="rotate(-90 213.4 472)">Tumor weight(g)</text>
<circle cx="227.50" cy="401.20" r="1.90" fill="#0a0ab0" stroke="#222" stroke-width="0.4"/>
<text x="238.30" y="404.80" font-size="8.2" fill="#111">KDM6A<tspan font-size="5.6" dy="-4.26">S829A</tspan></text>
<path d="M286.90 399.32L288.55 401.20L286.90 403.07L285.25 401.20Z" fill="#0b6a1b" stroke="#222" stroke-width="0.3"/>
<text x="298.00" y="404.80" font-size="8.2" fill="#111">KDM6A<tspan font-size="5.6" dy="-4.26">S829A</tspan><tspan dy="4.26">+PER2</tspan></text>
<rect x="225.70" y="412.00" width="3.60" height="3.60" fill="#b01010" stroke="#333" stroke-width="0.4"/>
<text x="238.30" y="417.40" font-size="8.2" fill="#111">KDM6A<tspan font-size="5.6" dy="-4.26">S829D</tspan></text>
<circle cx="286.90" cy="413.80" r="1.90" fill="#c08030" stroke="#333" stroke-width="0.4"/>
<text x="298.00" y="417.40" font-size="8.2" fill="#111">KDM6A<tspan font-size="5.6" dy="-4.26">S829D</tspan><tspan dy="4.26">+PER2</tspan></text>
<rect x="405.5" y="325" width="274.8" height="218" fill="#bdbdbd"/>
<rect x="404" y="323.7" width="274.2" height="217.7" fill="#f6f6f6"/>
<rect x="404" y="323.7" width="272.6" height="216.6" fill="#efefef"/>
<clipPath id="fclip"><rect x="404" y="323.7" width="272.6" height="216.6"/></clipPath>
<path d="M425 395C430 378 455 370 480 372C505 374 520 385 516 405C512 425 480 430 450 428C428 426 420 410 425 395Z" fill="none" stroke="#e3e3e3" stroke-width="0.7" clip-path="url(#fclip)"/>
<path d="M420 470C418 452 440 444 470 445C505 446 536 458 534 480C532 500 505 515 470 516C440 517 422 495 420 470Z" fill="none" stroke="#e3e3e3" stroke-width="0.7" clip-path="url(#fclip)"/>
<path d="M560 420C558 405 575 398 600 400C625 402 642 412 640 428C638 442 615 446 590 444C570 442 561 432 560 420Z" fill="none" stroke="#e3e3e3" stroke-width="0.7" clip-path="url(#fclip)"/>
<path d="M553 480C552 462 575 455 600 456C625 457 646 468 644 488C642 506 618 514 595 513C570 512 554 498 553 480Z" fill="none" stroke="#e3e3e3" stroke-width="0.7" clip-path="url(#fclip)"/>
<text x="411.20" y="340.20" font-size="9.1" font-weight="bold" text-anchor="start" fill="#111" filter="url(#tsh)">Glucose deficiency</text>
<text x="531.30" y="363.30" font-size="9.1" font-weight="bold" text-anchor="start" fill="#111" filter="url(#tsh)">CDK1</text>
<text x="609.20" y="381.30" font-size="8.0" font-weight="bold" text-anchor="start" fill="#111" filter="url(#tsh)">Ser829</text>
<text x="609.20" y="390.90" font-size="8.0" font-weight="bold" text-anchor="start" fill="#111" filter="url(#tsh)">Phosphorylation</text>
<text x="452.30" y="536.00" font-size="9.1" font-weight="bold" text-anchor="start" fill="#111" filter="url(#tsh)">Glycolysis</text>
<text x="567.30" y="499.40" font-size="9.1" font-weight="bold" text-anchor="start" fill="#111" filter="url(#tsh)">Translocate</text>
<text x="584.30" y="536.00" font-size="9.1" font-weight="bold" text-anchor="start" fill="#111" filter="url(#tsh)">Cellular Plasma</text>
<path d="M509.1 338.6H529.6V368.5" fill="none" stroke="#555" stroke-width="0.95" stroke-dasharray="4 2.1"/>
<path d="M527.9 368.4L529.6 372.0L531.3 368.4Z" fill="#333"/>
<path d="M416.2 353V533.4H448.6" fill="none" stroke="#222" stroke-width="1.0" stroke-dasharray="4.6 2.6"/>
<path d="M414.3 354L416.2 349.6L418.1 354Z" fill="#222"/>
<path d="M499.30 397.80 L499.21 399.40 L498.92 400.68 L498.46 401.85 L497.80 402.94 L496.97 403.95 L495.96 404.90 L494.77 405.78 L493.41 406.59 L491.89 407.33 L490.21 408.00 L488.37 408.60 L486.38 409.13 L484.23 409.57 L481.94 409.94 L479.48 410.23 L476.84 410.43 L473.94 410.56 L470.30 410.60 L466.66 410.56 L463.76 410.43 L461.12 410.23 L458.66 409.94 L456.37 409.57 L454.22 409.13 L452.23 408.60 L450.39 408.00 L448.71 407.33 L447.19 406.59 L445.83 405.78 L444.64 404.90 L443.63 403.95 L442.80 402.94 L442.14 401.85 L441.68 400.68 L441.39 399.40 L441.30 397.80 L441.39 396.20 L441.68 394.92 L442.14 393.75 L442.80 392.66 L443.63 391.65 L444.64 390.70 L445.83 389.82 L447.19 389.01 L448.71 388.27 L450.39 387.60 L452.23 387.00 L454.22 386.47 L456.37 386.03 L458.66 385.66 L461.12 385.37 L463.76 385.17 L466.66 385.04 L470.30 385.00 L473.94 385.04 L476.84 385.17 L479.48 385.37 L481.94 385.66 L484.23 386.03 L486.38 386.47 L488.37 387.00 L490.21 387.60 L491.89 388.27 L493.41 389.01 L494.77 389.82 L495.96 390.70 L496.97 391.65 L497.80 392.66 L498.46 393.75 L498.92 394.92 L499.21 396.20Z" fill="#aaa" opacity="0.5"/>
<path d="M498.50 396.90 L498.41 398.50 L498.12 399.78 L497.66 400.95 L497.00 402.04 L496.17 403.05 L495.16 404.00 L493.97 404.88 L492.61 405.69 L491.09 406.43 L489.41 407.10 L487.57 407.70 L485.58 408.23 L483.43 408.67 L481.14 409.04 L478.68 409.33 L476.04 409.53 L473.14 409.66 L469.50 409.70 L465.86 409.66 L462.96 409.53 L460.32 409.33 L457.86 409.04 L455.57 408.67 L453.42 408.23 L451.43 407.70 L449.59 407.10 L447.91 406.43 L446.39 405.69 L445.03 404.88 L443.84 404.00 L442.83 403.05 L442.00 402.04 L441.34 400.95 L440.88 399.78 L440.59 398.50 L440.50 396.90 L440.59 395.30 L440.88 394.02 L441.34 392.85 L442.00 391.76 L442.83 390.75 L443.84 389.80 L445.03 388.92 L446.39 388.11 L447.91 387.37 L449.59 386.70 L451.43 386.10 L453.42 385.57 L455.57 385.13 L457.86 384.76 L460.32 384.47 L462.96 384.27 L465.86 384.14 L469.50 384.10 L473.14 384.14 L476.04 384.27 L478.68 384.47 L481.14 384.76 L483.43 385.13 L485.58 385.57 L487.57 386.10 L489.41 386.70 L491.09 387.37 L492.61 388.11 L493.97 388.92 L495.16 389.80 L496.17 390.75 L497.00 391.76 L497.66 392.85 L498.12 394.02 L498.41 395.30Z" fill="#ee7e30" stroke="#6f8f7a" stroke-width="0.7"/>
<text x="469.30" y="399.70" font-size="8.2" font-weight="bold" text-anchor="middle" fill="#171f66" stroke="#171f66" stroke-width="0.2">KDM6A</text>
<path d="M494.30 447.40 L494.22 449.00 L493.97 450.28 L493.57 451.45 L493.00 452.54 L492.28 453.55 L491.40 454.50 L490.37 455.38 L489.19 456.19 L487.86 456.93 L486.40 457.60 L484.80 458.20 L483.07 458.73 L481.21 459.17 L479.21 459.54 L477.08 459.83 L474.78 460.03 L472.26 460.16 L469.10 460.20 L465.94 460.16 L463.42 460.03 L461.12 459.83 L458.99 459.54 L456.99 459.17 L455.13 458.73 L453.40 458.20 L451.80 457.60 L450.34 456.93 L449.01 456.19 L447.83 455.38 L446.80 454.50 L445.92 453.55 L445.20 452.54 L444.63 451.45 L444.23 450.28 L443.98 449.00 L443.90 447.40 L443.98 445.80 L444.23 444.52 L444.63 443.35 L445.20 442.26 L445.92 441.25 L446.80 440.30 L447.83 439.42 L449.01 438.61 L450.34 437.87 L451.80 437.20 L453.40 436.60 L455.13 436.07 L456.99 435.63 L458.99 435.26 L461.12 434.97 L463.42 434.77 L465.94 434.64 L469.10 434.60 L472.26 434.64 L474.78 434.77 L477.08 434.97 L479.21 435.26 L481.21 435.63 L483.07 436.07 L484.80 436.60 L486.40 437.20 L487.86 437.87 L489.19 438.61 L490.37 439.42 L491.40 440.30 L492.28 441.25 L493.00 442.26 L493.57 443.35 L493.97 444.52 L494.22 445.80Z" fill="#aaa" opacity="0.5"/>
<path d="M493.50 446.50 L493.42 448.10 L493.17 449.38 L492.77 450.55 L492.20 451.64 L491.48 452.65 L490.60 453.60 L489.57 454.48 L488.39 455.29 L487.06 456.03 L485.60 456.70 L484.00 457.30 L482.27 457.83 L480.41 458.27 L478.41 458.64 L476.28 458.93 L473.98 459.13 L471.46 459.26 L468.30 459.30 L465.14 459.26 L462.62 459.13 L460.32 458.93 L458.19 458.64 L456.19 458.27 L454.33 457.83 L452.60 457.30 L451.00 456.70 L449.54 456.03 L448.21 455.29 L447.03 454.48 L446.00 453.60 L445.12 452.65 L444.40 451.64 L443.83 450.55 L443.43 449.38 L443.18 448.10 L443.10 446.50 L443.18 444.90 L443.43 443.62 L443.83 442.45 L444.40 441.36 L445.12 440.35 L446.00 439.40 L447.03 438.52 L448.21 437.71 L449.54 436.97 L451.00 436.30 L452.60 435.70 L454.33 435.17 L456.19 434.73 L458.19 434.36 L460.32 434.07 L462.62 433.87 L465.14 433.74 L468.30 433.70 L471.46 433.74 L473.98 433.87 L476.28 434.07 L478.41 434.36 L480.41 434.73 L482.27 435.17 L484.00 435.70 L485.60 436.30 L487.06 436.97 L488.39 437.71 L489.57 438.52 L490.60 439.40 L491.48 440.35 L492.20 441.36 L492.77 442.45 L493.17 443.62 L493.42 444.90Z" fill="#88cf4a" stroke="#4f7f3e" stroke-width="0.7"/>
<text x="468.30" y="444.60" font-size="6.4" font-weight="bold" text-anchor="middle" fill="#fff">H3</text>
<text x="468.30" y="452.60" font-size="6.4" font-weight="bold" text-anchor="middle" fill="#fff">K27Me3</text>
<path d="M494.20 494.70 L494.12 496.30 L493.88 497.58 L493.48 498.75 L492.93 499.84 L492.22 500.85 L491.35 501.80 L490.34 502.68 L489.19 503.49 L487.89 504.23 L486.46 504.90 L484.89 505.50 L483.19 506.03 L481.37 506.47 L479.41 506.84 L477.32 507.13 L475.07 507.33 L472.60 507.46 L469.50 507.50 L466.40 507.46 L463.93 507.33 L461.68 507.13 L459.59 506.84 L457.63 506.47 L455.81 506.03 L454.11 505.50 L452.54 504.90 L451.11 504.23 L449.81 503.49 L448.66 502.68 L447.65 501.80 L446.78 500.85 L446.07 499.84 L445.52 498.75 L445.12 497.58 L444.88 496.30 L444.80 494.70 L444.88 493.10 L445.12 491.82 L445.52 490.65 L446.07 489.56 L446.78 488.55 L447.65 487.60 L448.66 486.72 L449.81 485.91 L451.11 485.17 L452.54 484.50 L454.11 483.90 L455.81 483.37 L457.63 482.93 L459.59 482.56 L461.68 482.27 L463.93 482.07 L466.40 481.94 L469.50 481.90 L472.60 481.94 L475.07 482.07 L477.32 482.27 L479.41 482.56 L481.37 482.93 L483.19 483.37 L484.89 483.90 L486.46 484.50 L487.89 485.17 L489.19 485.91 L490.34 486.72 L491.35 487.60 L492.22 488.55 L492.93 489.56 L493.48 490.65 L493.88 491.82 L494.12 493.10Z" fill="#aaa" opacity="0.5"/>
<path d="M493.40 493.80 L493.32 495.40 L493.08 496.68 L492.68 497.85 L492.13 498.94 L491.42 499.95 L490.55 500.90 L489.54 501.78 L488.39 502.59 L487.09 503.33 L485.66 504.00 L484.09 504.60 L482.39 505.13 L480.57 505.57 L478.61 505.94 L476.52 506.23 L474.27 506.43 L471.80 506.56 L468.70 506.60 L465.60 506.56 L463.13 506.43 L460.88 506.23 L458.79 505.94 L456.83 505.57 L455.01 505.13 L453.31 504.60 L451.74 504.00 L450.31 503.33 L449.01 502.59 L447.86 501.78 L446.85 500.90 L445.98 499.95 L445.27 498.94 L444.72 497.85 L444.32 496.68 L444.08 495.40 L444.00 493.80 L444.08 492.20 L444.32 490.92 L444.72 489.75 L445.27 488.66 L445.98 487.65 L446.85 486.70 L447.86 485.82 L449.01 485.01 L450.31 484.27 L451.74 483.60 L453.31 483.00 L455.01 482.47 L456.83 482.03 L458.79 481.66 L460.88 481.37 L463.13 481.17 L465.60 481.04 L468.70 481.00 L471.80 481.04 L474.27 481.17 L476.52 481.37 L478.61 481.66 L480.57 482.03 L482.39 482.47 L484.09 483.00 L485.66 483.60 L487.09 484.27 L488.39 485.01 L489.54 485.82 L490.55 486.70 L491.42 487.65 L492.13 488.66 L492.68 489.75 L493.08 490.92 L493.32 492.20Z" fill="#f7b500" stroke="#b08a2a" stroke-width="0.7"/>
<text x="468.70" y="496.60" font-size="7.0" font-weight="bold" text-anchor="middle" fill="#fff">PER1/2</text>
<line x1="468.80" y1="409.70" x2="468.80" y2="429.40" stroke="#222" stroke-width="0.9"/>
<line x1="465.00" y1="429.40" x2="472.60" y2="429.40" stroke="#222" stroke-width="1.2"/>
<line x1="468.80" y1="459.40" x2="468.80" y2="479.20" stroke="#222" stroke-width="0.9"/>
<line x1="465.00" y1="479.20" x2="472.60" y2="479.20" stroke="#222" stroke-width="1.2"/>
<line x1="468.80" y1="506.70" x2="468.80" y2="525.80" stroke="#222" stroke-width="0.9"/>
<line x1="465.00" y1="525.80" x2="472.60" y2="525.80" stroke="#222" stroke-width="1.2"/>
<path d="M497.32 384.62 L498.45 384.05 L499.60 383.50 L500.78 382.98 L501.99 382.49 L503.22 382.02 L504.47 381.59 L505.75 381.18 L507.04 380.80 L508.35 380.46 L509.67 380.14 L511.01 379.85 L512.36 379.60 L513.72 379.38 L515.09 379.19 L516.46 379.03 L517.85 378.90 L519.23 378.81 L520.62 378.75 L522.01 378.73 L523.40 378.74 L524.78 378.78 L526.16 378.86 L527.54 378.98 L528.90 379.13 L530.26 379.32 L531.61 379.55 L532.94 379.81 L534.26 380.12 L535.56 380.46 L536.85 380.83 L538.12 381.25 L539.36 381.71 L540.59 382.20 L541.79 382.74 L542.96 383.31 L544.11 383.93 L545.22 384.58 L546.31 385.28 L547.37 386.01 L548.39 386.79 L549.61 385.21 L548.50 384.41 L547.36 383.66 L546.19 382.96 L544.99 382.30 L543.76 381.69 L542.51 381.12 L541.24 380.59 L539.95 380.11 L538.64 379.67 L537.31 379.28 L535.97 378.92 L534.61 378.61 L533.24 378.33 L531.85 378.10 L530.46 377.90 L529.06 377.74 L527.65 377.62 L526.24 377.54 L524.82 377.50 L523.40 377.49 L521.99 377.51 L520.57 377.58 L519.15 377.67 L517.74 377.81 L516.34 377.97 L514.94 378.17 L513.56 378.40 L512.18 378.67 L510.82 378.96 L509.47 379.29 L508.13 379.65 L506.81 380.04 L505.51 380.45 L504.24 380.90 L502.98 381.38 L501.75 381.88 L500.54 382.42 L499.36 382.98 L498.20 383.57 L497.08 384.18Z" fill="#111"/>
<path d="M543.6 388.6L554.0 383.4L553.8 391.8Z" fill="#111"/>
<path d="M613.00 398.40 L612.91 400.00 L612.64 401.28 L612.19 402.45 L611.56 403.54 L610.75 404.55 L609.77 405.50 L608.63 406.38 L607.32 407.19 L605.85 407.93 L604.22 408.60 L602.45 409.20 L600.52 409.73 L598.45 410.17 L596.24 410.54 L593.86 410.83 L591.31 411.03 L588.51 411.16 L585.00 411.20 L581.49 411.16 L578.69 411.03 L576.14 410.83 L573.76 410.54 L571.55 410.17 L569.48 409.73 L567.55 409.20 L565.78 408.60 L564.15 407.93 L562.68 407.19 L561.37 406.38 L560.23 405.50 L559.25 404.55 L558.44 403.54 L557.81 402.45 L557.36 401.28 L557.09 400.00 L557.00 398.40 L557.09 396.80 L557.36 395.52 L557.81 394.35 L558.44 393.26 L559.25 392.25 L560.23 391.30 L561.37 390.42 L562.68 389.61 L564.15 388.87 L565.78 388.20 L567.55 387.60 L569.48 387.07 L571.55 386.63 L573.76 386.26 L576.14 385.97 L578.69 385.77 L581.49 385.64 L585.00 385.60 L588.51 385.64 L591.31 385.77 L593.86 385.97 L596.24 386.26 L598.45 386.63 L600.52 387.07 L602.45 387.60 L604.22 388.20 L605.85 388.87 L607.32 389.61 L608.63 390.42 L609.77 391.30 L610.75 392.25 L611.56 393.26 L612.19 394.35 L612.64 395.52 L612.91 396.80Z" fill="#aaa" opacity="0.5"/>
<path d="M612.20 397.50 L612.11 399.10 L611.84 400.38 L611.39 401.55 L610.76 402.64 L609.95 403.65 L608.97 404.60 L607.83 405.48 L606.52 406.29 L605.05 407.03 L603.42 407.70 L601.65 408.30 L599.72 408.83 L597.65 409.27 L595.44 409.64 L593.06 409.93 L590.51 410.13 L587.71 410.26 L584.20 410.30 L580.69 410.26 L577.89 410.13 L575.34 409.93 L572.96 409.64 L570.75 409.27 L568.68 408.83 L566.75 408.30 L564.98 407.70 L563.35 407.03 L561.88 406.29 L560.57 405.48 L559.43 404.60 L558.45 403.65 L557.64 402.64 L557.01 401.55 L556.56 400.38 L556.29 399.10 L556.20 397.50 L556.29 395.90 L556.56 394.62 L557.01 393.45 L557.64 392.36 L558.45 391.35 L559.43 390.40 L560.57 389.52 L561.88 388.71 L563.35 387.97 L564.98 387.30 L566.75 386.70 L568.68 386.17 L570.75 385.73 L572.96 385.36 L575.34 385.07 L577.89 384.87 L580.69 384.74 L584.20 384.70 L587.71 384.74 L590.51 384.87 L593.06 385.07 L595.44 385.36 L597.65 385.73 L599.72 386.17 L601.65 386.70 L603.42 387.30 L605.05 387.97 L606.52 388.71 L607.83 389.52 L608.97 390.40 L609.95 391.35 L610.76 392.36 L611.39 393.45 L611.84 394.62 L612.11 395.90Z" fill="#ee7e30" stroke="#6f8f7a" stroke-width="0.7"/>
<text x="584.20" y="400.40" font-size="8.2" font-weight="bold" text-anchor="middle" fill="#171f66" stroke="#171f66" stroke-width="0.2">KDM6A</text>
<polygon points="603.40,386.70 602.11,387.91 602.17,389.67 600.41,389.61 599.20,390.90 597.99,389.61 596.23,389.67 596.29,387.91 595.00,386.70 596.29,385.49 596.23,383.73 597.99,383.79 599.20,382.50 600.41,383.79 602.17,383.73 602.11,385.49" fill="#8fd0e6" stroke="#4a8aa8" stroke-width="0.4"/>
<path d="M599.70 415.20A7.85 7.85 0 0 1 599.70 430.90Z" fill="#f9f9f9"/>
<path d="M599.70 415.20H637.25A7.85 7.85 0 0 1 637.25 430.90H599.70A7.85 7.85 0 0 0 599.70 415.20Z" fill="#19ab4b" stroke="#1b3f5c" stroke-width="0.9"/>
<circle cx="640.10" cy="423.05" r="4.0" fill="#6a8bd2" stroke="#2f4f8a" stroke-width="0.5"/>
<text x="622.80" y="425.35" font-size="6.0" font-weight="bold" text-anchor="middle" fill="#f4fff4">SFN</text>
<path d="M581.08 413.92 L581.97 414.13 L582.81 414.37 L583.60 414.64 L584.34 414.95 L585.03 415.28 L585.68 415.63 L586.28 416.02 L586.84 416.42 L587.35 416.85 L587.82 417.29 L588.25 417.76 L588.64 418.24 L588.98 418.74 L589.29 419.26 L589.55 419.79 L589.78 420.33 L589.97 420.88 L590.11 421.45 L590.22 422.02 L590.29 422.59 L590.27 423.17 L590.21 423.75 L590.11 424.32 L589.97 424.89 L589.80 425.44 L589.59 425.99 L589.35 426.53 L589.07 427.05 L588.76 427.55 L588.42 428.04 L588.04 428.52 L587.63 428.97 L587.19 429.40 L586.71 429.81 L586.21 430.20 L585.68 430.56 L585.12 430.89 L584.53 431.20 L583.91 431.47 L583.26 431.71 L583.94 433.49 L584.67 433.16 L585.37 432.79 L586.02 432.39 L586.65 431.96 L587.23 431.50 L587.78 431.01 L588.28 430.50 L588.75 429.96 L589.18 429.41 L589.57 428.84 L589.92 428.25 L590.23 427.64 L590.49 427.03 L590.72 426.40 L590.90 425.77 L591.04 425.13 L591.14 424.49 L591.20 423.84 L591.22 423.20 L591.19 422.56 L591.16 421.91 L591.10 421.27 L590.98 420.63 L590.83 419.99 L590.62 419.35 L590.37 418.73 L590.06 418.11 L589.71 417.51 L589.31 416.92 L588.86 416.35 L588.35 415.80 L587.80 415.27 L587.20 414.76 L586.54 414.29 L585.83 413.83 L585.07 413.41 L584.26 413.03 L583.40 412.67 L582.48 412.36 L581.52 412.08Z" fill="#111"/>
<path d="M580.9 434.6L585.6 434.0L582.6 430.2Z" fill="#111"/>
<path d="M611.00 444.40A7.50 7.50 0 0 1 611.00 459.40Z" fill="#f9f9f9"/>
<path d="M611.00 444.40H648.30A7.50 7.50 0 0 1 648.30 459.40H611.00A7.50 7.50 0 0 0 611.00 444.40Z" fill="#19ab4b" stroke="#1b3f5c" stroke-width="0.9"/>
<circle cx="650.80" cy="451.90" r="4.0" fill="#6a8bd2" stroke="#2f4f8a" stroke-width="0.5"/>
<text x="633.80" y="454.20" font-size="6.0" font-weight="bold" text-anchor="middle" fill="#f4fff4">SFN</text>
<path d="M614.30 452.40 L614.21 454.00 L613.94 455.28 L613.49 456.45 L612.86 457.54 L612.05 458.55 L611.07 459.50 L609.93 460.38 L608.62 461.19 L607.15 461.93 L605.52 462.60 L603.75 463.20 L601.82 463.73 L599.75 464.17 L597.54 464.54 L595.16 464.83 L592.61 465.03 L589.81 465.16 L586.30 465.20 L582.79 465.16 L579.99 465.03 L577.44 464.83 L575.06 464.54 L572.85 464.17 L570.78 463.73 L568.85 463.20 L567.08 462.60 L565.45 461.93 L563.98 461.19 L562.67 460.38 L561.53 459.50 L560.55 458.55 L559.74 457.54 L559.11 456.45 L558.66 455.28 L558.39 454.00 L558.30 452.40 L558.39 450.80 L558.66 449.52 L559.11 448.35 L559.74 447.26 L560.55 446.25 L561.53 445.30 L562.67 444.42 L563.98 443.61 L565.45 442.87 L567.08 442.20 L568.85 441.60 L570.78 441.07 L572.85 440.63 L575.06 440.26 L577.44 439.97 L579.99 439.77 L582.79 439.64 L586.30 439.60 L589.81 439.64 L592.61 439.77 L595.16 439.97 L597.54 440.26 L599.75 440.63 L601.82 441.07 L603.75 441.60 L605.52 442.20 L607.15 442.87 L608.62 443.61 L609.93 444.42 L611.07 445.30 L612.05 446.25 L612.86 447.26 L613.49 448.35 L613.94 449.52 L614.21 450.80Z" fill="#aaa" opacity="0.5"/>
<path d="M613.50 451.50 L613.41 453.10 L613.14 454.38 L612.69 455.55 L612.06 456.64 L611.25 457.65 L610.27 458.60 L609.13 459.48 L607.82 460.29 L606.35 461.03 L604.72 461.70 L602.95 462.30 L601.02 462.83 L598.95 463.27 L596.74 463.64 L594.36 463.93 L591.81 464.13 L589.01 464.26 L585.50 464.30 L581.99 464.26 L579.19 464.13 L576.64 463.93 L574.26 463.64 L572.05 463.27 L569.98 462.83 L568.05 462.30 L566.28 461.70 L564.65 461.03 L563.18 460.29 L561.87 459.48 L560.73 458.60 L559.75 457.65 L558.94 456.64 L558.31 455.55 L557.86 454.38 L557.59 453.10 L557.50 451.50 L557.59 449.90 L557.86 448.62 L558.31 447.45 L558.94 446.36 L559.75 445.35 L560.73 444.40 L561.87 443.52 L563.18 442.71 L564.65 441.97 L566.28 441.30 L568.05 440.70 L569.98 440.17 L572.05 439.73 L574.26 439.36 L576.64 439.07 L579.19 438.87 L581.99 438.74 L585.50 438.70 L589.01 438.74 L591.81 438.87 L594.36 439.07 L596.74 439.36 L598.95 439.73 L601.02 440.17 L602.95 440.70 L604.72 441.30 L606.35 441.97 L607.82 442.71 L609.13 443.52 L610.27 444.40 L611.25 445.35 L612.06 446.36 L612.69 447.45 L613.14 448.62 L613.41 449.90Z" fill="#ee7e30" stroke="#6f8f7a" stroke-width="0.7"/>
<text x="585.00" y="453.80" font-size="8.2" font-weight="bold" text-anchor="middle" fill="#171f66" stroke="#171f66" stroke-width="0.2">KDM6A</text>
<polygon points="603.90,440.40 602.61,441.61 602.67,443.37 600.91,443.31 599.70,444.60 598.49,443.31 596.73,443.37 596.79,441.61 595.50,440.40 596.79,439.19 596.73,437.43 598.49,437.49 599.70,436.20 600.91,437.49 602.67,437.43 602.61,439.19" fill="#8fd0e6" stroke="#4a8aa8" stroke-width="0.4"/>
<path d="M586.0 464.8L586.9 464.8L587.5 486.2L589.0 486.2L586.5 490.6L584.0 486.2L585.5 486.2Z" fill="#111"/>
<path d="M595.9 502.8L596.8 502.8L597.4 523.2L598.9 523.2L596.4 527.6L593.9 523.2L595.4 523.2Z" fill="#111"/>
</svg>
</body></html>
